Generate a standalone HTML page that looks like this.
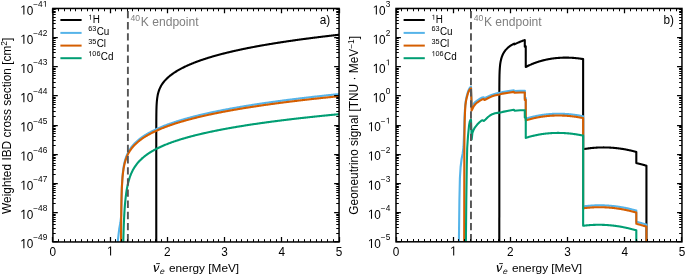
<!DOCTYPE html>
<html><head><meta charset="utf-8"><style>
html,body{margin:0;padding:0;background:#fff;}
body{width:685px;height:275px;overflow:hidden;font-family:"Liberation Sans",sans-serif;}
svg{display:block;will-change:transform;}
text{font-family:"Liberation Sans",sans-serif;}
</style></head><body>
<svg width="685" height="275" viewBox="0 0 685 275">
<defs><clipPath id="cl"><rect x="52.85" y="8.40" width="286.20" height="233.55"/></clipPath>
<clipPath id="cr"><rect x="396.00" y="8.40" width="285.95" height="233.40"/></clipPath></defs>
<rect width="685" height="275" fill="#fff"/>
<g clip-path="url(#cl)" fill="none" stroke-width="2.10" stroke-linejoin="round" stroke-linecap="butt">
<path d="M156.27 329.53L156.27 207.00L156.27 206.53L156.27 206.07L156.27 205.60L156.27 205.14L156.27 204.67L156.27 204.21L156.27 203.74L156.27 203.28L156.27 202.81L156.27 202.35L156.27 201.88L156.27 201.42L156.27 200.96L156.27 200.49L156.27 200.03L156.27 199.56L156.27 199.10L156.27 198.63L156.27 198.17L156.27 197.70L156.27 197.24L156.27 196.77L156.27 196.31L156.27 195.84L156.27 195.38L156.27 194.91L156.27 194.45L156.27 193.99L156.27 193.52L156.27 193.06L156.27 192.59L156.27 192.13L156.27 191.66L156.27 191.20L156.27 190.73L156.27 190.27L156.27 189.80L156.27 189.34L156.27 188.87L156.27 188.41L156.27 187.95L156.27 187.48L156.27 187.02L156.27 186.55L156.27 186.09L156.27 185.62L156.27 185.16L156.27 184.69L156.27 184.23L156.27 183.76L156.27 183.30L156.27 182.83L156.27 182.37L156.27 181.90L156.27 181.44L156.27 180.98L156.27 180.51L156.27 180.05L156.27 179.58L156.27 179.12L156.27 178.65L156.27 178.19L156.27 177.72L156.27 177.26L156.27 176.79L156.27 176.33L156.27 175.86L156.27 175.40L156.27 174.94L156.27 174.47L156.27 174.01L156.27 173.54L156.27 173.08L156.27 172.61L156.27 172.15L156.27 171.68L156.27 171.22L156.27 170.75L156.27 170.29L156.27 169.82L156.27 169.36L156.27 168.90L156.27 168.43L156.27 167.97L156.27 167.50L156.27 167.04L156.27 166.57L156.27 166.11L156.27 165.64L156.27 165.18L156.27 164.71L156.27 164.25L156.27 163.78L156.27 163.32L156.27 162.85L156.27 162.39L156.27 161.93L156.27 161.46L156.27 161.00L156.27 160.53L156.27 160.07L156.27 159.60L156.27 159.14L156.27 158.67L156.27 158.21L156.27 157.74L156.27 157.28L156.27 156.81L156.27 156.35L156.27 155.89L156.27 155.42L156.27 154.96L156.27 154.49L156.27 154.03L156.27 153.56L156.27 153.10L156.27 152.63L156.27 152.17L156.27 151.70L156.27 151.24L156.27 150.77L156.27 150.31L156.27 149.84L156.27 149.38L156.27 148.92L156.27 148.45L156.27 147.99L156.27 147.52L156.27 147.06L156.27 146.59L156.27 146.13L156.27 145.66L156.27 145.20L156.27 144.73L156.27 144.27L156.27 143.80L156.27 143.34L156.27 142.88L156.27 142.41L156.27 141.95L156.27 141.48L156.27 141.02L156.27 140.55L156.27 140.09L156.27 139.62L156.27 139.16L156.27 138.69L156.27 138.23L156.27 137.76L156.27 137.30L156.27 136.83L156.27 136.37L156.27 135.90L156.27 135.44L156.27 134.98L156.27 134.51L156.27 134.05L156.27 133.58L156.27 133.12L156.27 132.65L156.27 132.19L156.28 131.72L156.28 131.26L156.28 130.79L156.28 130.33L156.28 129.86L156.28 129.40L156.28 128.93L156.28 128.47L156.28 128.00L156.28 127.54L156.28 127.07L156.28 126.61L156.28 126.14L156.28 125.68L156.29 125.21L156.29 124.75L156.29 124.28L156.29 123.82L156.29 123.35L156.29 122.89L156.29 122.42L156.30 121.95L156.30 121.49L156.30 121.02L156.30 120.56L156.30 120.09L156.31 119.63L156.31 119.16L156.31 118.69L156.32 118.23L156.32 117.76L156.32 117.30L156.33 116.83L156.33 116.36L156.34 115.90L156.34 115.43L156.35 114.96L156.35 114.50L156.36 114.03L156.36 113.56L156.37 113.09L156.38 112.62L156.39 112.16L156.39 111.69L156.40 111.22L156.41 110.75L156.42 110.28L156.44 109.81L156.45 109.34L156.46 108.87L156.48 108.40L156.49 107.93L156.51 107.45L156.52 106.98L156.54 106.51L156.56 106.03L156.58 105.56L156.61 105.08L156.63 104.61L156.66 104.13L156.69 103.65L156.72 103.18L156.75 102.70L156.79 102.22L156.83 101.73L156.87 101.25L156.91 100.77L156.96 100.28L157.01 99.79L157.07 99.30L157.12 98.81L157.19 98.32L157.26 97.82L157.33 97.33L157.41 96.83L157.49 96.32L157.58 95.82L157.68 95.31L157.78 94.80L157.89 94.29L158.01 93.77L158.14 93.25L158.28 92.73L158.43 92.20L158.59 91.66L158.76 91.13L158.94 90.58L159.13 90.05L159.14 90.03L159.59 88.89L160.05 87.86L160.51 86.92L160.96 86.07L161.42 85.27L161.88 84.54L162.34 83.85L162.80 83.19L163.25 82.57L163.71 81.99L164.17 81.43L164.63 80.89L165.09 80.37L165.54 79.87L166.00 79.40L166.46 78.93L166.92 78.48L167.38 78.05L167.84 77.63L168.29 77.22L168.75 76.82L169.21 76.43L169.67 76.05L170.13 75.68L170.58 75.32L171.04 74.97L171.50 74.62L171.96 74.29L172.42 73.95L172.87 73.63L173.33 73.31L173.79 73.00L174.25 72.69L174.71 72.39L175.16 72.09L175.62 71.80L176.08 71.51L176.54 71.23L177.00 70.95L177.46 70.68L177.91 70.41L178.37 70.15L178.83 69.89L179.29 69.63L179.75 69.37L180.20 69.12L180.66 68.88L181.12 68.63L181.58 68.39L182.04 68.15L182.49 67.92L182.95 67.69L183.41 67.46L183.87 67.23L184.33 67.01L184.78 66.79L185.24 66.57L185.70 66.35L186.16 66.14L186.62 65.92L187.08 65.71L187.53 65.51L187.99 65.30L188.45 65.10L188.91 64.90L189.37 64.70L189.82 64.50L190.28 64.31L190.74 64.12L191.20 63.92L191.66 63.73L192.11 63.55L192.57 63.36L193.03 63.18L193.49 62.99L193.95 62.81L194.40 62.63L194.86 62.46L195.32 62.28L195.78 62.10L196.24 61.93L196.70 61.76L197.15 61.59L197.61 61.42L198.07 61.25L198.53 61.09L198.99 60.92L199.44 60.76L199.90 60.59L200.36 60.43L200.82 60.27L201.28 60.11L201.73 59.96L202.19 59.80L202.65 59.64L203.11 59.49L203.57 59.34L204.02 59.19L204.48 59.03L204.94 58.88L205.40 58.74L205.86 58.59L206.32 58.44L206.77 58.30L207.23 58.15L207.69 58.01L208.15 57.86L208.61 57.72L209.06 57.58L209.52 57.44L209.98 57.30L210.44 57.17L210.90 57.03L211.35 56.89L211.81 56.76L212.27 56.62L212.73 56.49L213.19 56.35L213.64 56.22L214.10 56.09L214.56 55.96L215.02 55.83L215.48 55.70L215.94 55.57L216.39 55.45L216.85 55.32L217.31 55.19L217.77 55.07L218.23 54.94L218.68 54.82L219.14 54.70L219.60 54.57L220.06 54.45L220.52 54.33L220.97 54.21L221.43 54.09L221.89 53.97L222.35 53.85L222.81 53.73L223.26 53.62L223.72 53.50L224.18 53.38L224.64 53.27L225.10 53.15L225.56 53.04L226.01 52.93L226.47 52.81L226.93 52.70L227.39 52.59L227.85 52.48L228.30 52.37L228.76 52.26L229.22 52.15L229.68 52.04L230.14 51.93L230.59 51.82L231.05 51.71L231.51 51.61L231.97 51.50L232.43 51.39L232.88 51.29L233.34 51.18L233.80 51.08L234.26 50.97L234.72 50.87L235.18 50.77L235.63 50.66L236.09 50.56L236.55 50.46L237.01 50.36L237.47 50.26L237.92 50.16L238.38 50.06L238.84 49.96L239.30 49.86L239.76 49.76L240.21 49.66L240.67 49.57L241.13 49.47L241.59 49.37L242.05 49.28L242.50 49.18L242.96 49.08L243.42 48.99L243.88 48.89L244.34 48.80L244.80 48.71L245.25 48.61L245.71 48.52L246.17 48.43L246.63 48.33L247.09 48.24L247.54 48.15L248.00 48.06L248.46 47.97L248.92 47.88L249.38 47.79L249.83 47.70L250.29 47.61L250.75 47.52L251.21 47.43L251.67 47.34L252.13 47.25L252.58 47.17L253.04 47.08L253.50 46.99L253.96 46.91L254.42 46.82L254.87 46.73L255.33 46.65L255.79 46.56L256.25 46.48L256.71 46.39L257.16 46.31L257.62 46.22L258.08 46.14L258.54 46.06L259.00 45.97L259.45 45.89L259.91 45.81L260.37 45.73L260.83 45.64L261.29 45.56L261.75 45.48L262.20 45.40L262.66 45.32L263.12 45.24L263.58 45.16L264.04 45.08L264.49 45.00L264.95 44.92L265.41 44.84L265.87 44.76L266.33 44.68L266.78 44.60L267.24 44.53L267.70 44.45L268.16 44.37L268.62 44.29L269.07 44.22L269.53 44.14L269.99 44.06L270.45 43.99L270.91 43.91L271.37 43.84L271.82 43.76L272.28 43.68L272.74 43.61L273.20 43.54L273.66 43.46L274.11 43.39L274.57 43.31L275.03 43.24L275.49 43.17L275.95 43.09L276.40 43.02L276.86 42.95L277.32 42.87L277.78 42.80L278.24 42.73L278.69 42.66L279.15 42.59L279.61 42.51L280.07 42.44L280.53 42.37L280.99 42.30L281.44 42.23L281.90 42.16L282.36 42.09L282.82 42.02L283.28 41.95L283.73 41.88L284.19 41.81L284.65 41.74L285.11 41.67L285.57 41.61L286.02 41.54L286.48 41.47L286.94 41.40L287.40 41.33L287.86 41.27L288.31 41.20L288.77 41.13L289.23 41.06L289.69 41.00L290.15 40.93L290.61 40.86L291.06 40.80L291.52 40.73L291.98 40.67L292.44 40.60L292.90 40.54L293.35 40.47L293.81 40.41L294.27 40.34L294.73 40.28L295.19 40.21L295.64 40.15L296.10 40.08L296.56 40.02L297.02 39.95L297.48 39.89L297.93 39.83L298.39 39.76L298.85 39.70L299.31 39.64L299.77 39.58L300.23 39.51L300.68 39.45L301.14 39.39L301.60 39.33L302.06 39.26L302.52 39.20L302.97 39.14L303.43 39.08L303.89 39.02L304.35 38.96L304.81 38.90L305.26 38.84L305.72 38.78L306.18 38.71L306.64 38.65L307.10 38.59L307.55 38.53L308.01 38.47L308.47 38.42L308.93 38.36L309.39 38.30L309.85 38.24L310.30 38.18L310.76 38.12L311.22 38.06L311.68 38.00L312.14 37.94L312.59 37.89L313.05 37.83L313.51 37.77L313.97 37.71L314.43 37.65L314.88 37.60L315.34 37.54L315.80 37.48L316.26 37.42L316.72 37.37L317.17 37.31L317.63 37.25L318.09 37.20L318.55 37.14L319.01 37.08L319.47 37.03L319.92 36.97L320.38 36.92L320.84 36.86L321.30 36.80L321.76 36.75L322.21 36.69L322.67 36.64L323.13 36.58L323.59 36.53L324.05 36.47L324.50 36.42L324.96 36.37L325.42 36.31L325.88 36.26L326.34 36.20L326.79 36.15L327.25 36.09L327.71 36.04L328.17 35.99L328.63 35.93L329.09 35.88L329.54 35.83L330.00 35.77L330.46 35.72L330.92 35.67L331.38 35.61L331.83 35.56L332.29 35.51L332.75 35.46L333.21 35.40L333.67 35.35L334.12 35.30L334.58 35.25L335.04 35.20L335.50 35.15L335.96 35.09L336.41 35.04L336.87 34.99L337.33 34.94L337.79 34.89L338.25 34.84L338.71 34.79L339.16 34.74L339.62 34.68L340.08 34.63L340.54 34.58L341.00 34.53L341.45 34.48L341.91 34.43" stroke="#000000"/>
<path d="M117.00 246.00L117.70 241.90L119.20 229.00L120.40 222.50L121.20 215.50L121.82 187.63L122.38 177.92L122.93 172.04L123.48 167.91L124.03 164.76L124.58 162.23L125.13 160.11L125.69 158.30L126.24 156.71L126.79 155.30L127.34 154.03L127.89 152.87L128.44 151.81L128.99 150.82L129.55 149.90L130.10 149.04L130.65 148.23L131.20 147.47L131.75 146.74L132.30 146.05L132.86 145.39L133.41 144.75L133.96 144.15L134.51 143.57L135.06 143.00L135.61 142.46L136.17 141.94L136.72 141.43L137.27 140.94L137.82 140.46L138.37 140.00L138.92 139.55L139.48 139.11L140.03 138.68L140.58 138.26L141.13 137.85L141.68 137.46L142.23 137.07L142.78 136.69L143.34 136.31L143.89 135.95L144.44 135.59L144.99 135.24L145.54 134.90L146.09 134.56L146.65 134.23L147.20 133.90L147.75 133.58L148.30 133.26L148.85 132.95L149.40 132.65L149.96 132.35L150.51 132.05L151.06 131.76L151.61 131.48L152.16 131.19L152.71 130.92L153.27 130.64L153.82 130.37L154.37 130.10L154.92 129.84L155.47 129.58L156.02 129.32L156.57 129.07L157.13 128.82L157.68 128.57L158.23 128.33L158.78 128.09L159.33 127.85L159.88 127.61L160.44 127.38L160.99 127.15L161.54 126.92L162.09 126.69L162.64 126.47L163.19 126.25L163.75 126.03L164.30 125.81L164.85 125.60L165.40 125.39L165.95 125.18L166.50 124.97L167.06 124.76L167.61 124.56L168.16 124.36L168.71 124.16L169.26 123.96L169.81 123.76L170.36 123.57L170.92 123.37L171.47 123.18L172.02 122.99L172.57 122.81L173.12 122.62L173.67 122.43L174.23 122.25L174.78 122.07L175.33 121.89L175.88 121.71L176.43 121.53L176.98 121.36L177.54 121.18L178.09 121.01L178.64 120.84L179.19 120.67L179.74 120.50L180.29 120.33L180.85 120.16L181.40 120.00L181.95 119.83L182.50 119.67L183.05 119.51L183.60 119.35L184.15 119.19L184.71 119.03L185.26 118.87L185.81 118.72L186.36 118.56L186.91 118.41L187.46 118.26L188.02 118.10L188.57 117.95L189.12 117.80L189.67 117.65L190.22 117.51L190.77 117.36L191.33 117.21L191.88 117.07L192.43 116.92L192.98 116.78L193.53 116.64L194.08 116.49L194.64 116.35L195.19 116.21L195.74 116.07L196.29 115.94L196.84 115.80L197.39 115.66L197.94 115.53L198.50 115.39L199.05 115.26L199.60 115.12L200.15 114.99L200.70 114.86L201.25 114.73L201.81 114.60L202.36 114.47L202.91 114.34L203.46 114.21L204.01 114.08L204.56 113.96L205.12 113.83L205.67 113.70L206.22 113.58L206.77 113.46L207.32 113.33L207.87 113.21L208.43 113.09L208.98 112.96L209.53 112.84L210.08 112.72L210.63 112.60L211.18 112.48L211.73 112.37L212.29 112.25L212.84 112.13L213.39 112.01L213.94 111.90L214.49 111.78L215.04 111.67L215.60 111.55L216.15 111.44L216.70 111.32L217.25 111.21L217.80 111.10L218.35 110.99L218.91 110.88L219.46 110.77L220.01 110.66L220.56 110.55L221.11 110.44L221.66 110.33L222.22 110.22L222.77 110.11L223.32 110.00L223.87 109.90L224.42 109.79L224.97 109.68L225.52 109.58L226.08 109.47L226.63 109.37L227.18 109.27L227.73 109.16L228.28 109.06L228.83 108.96L229.39 108.85L229.94 108.75L230.49 108.65L231.04 108.55L231.59 108.45L232.14 108.35L232.70 108.25L233.25 108.15L233.80 108.05L234.35 107.95L234.90 107.86L235.45 107.76L236.01 107.66L236.56 107.56L237.11 107.47L237.66 107.37L238.21 107.27L238.76 107.18L239.31 107.08L239.87 106.99L240.42 106.90L240.97 106.80L241.52 106.71L242.07 106.62L242.62 106.52L243.18 106.43L243.73 106.34L244.28 106.25L244.83 106.15L245.38 106.06L245.93 105.97L246.49 105.88L247.04 105.79L247.59 105.70L248.14 105.61L248.69 105.52L249.24 105.44L249.80 105.35L250.35 105.26L250.90 105.17L251.45 105.08L252.00 105.00L252.55 104.91L253.10 104.82L253.66 104.74L254.21 104.65L254.76 104.57L255.31 104.48L255.86 104.40L256.41 104.31L256.97 104.23L257.52 104.14L258.07 104.06L258.62 103.97L259.17 103.89L259.72 103.81L260.28 103.73L260.83 103.64L261.38 103.56L261.93 103.48L262.48 103.40L263.03 103.32L263.59 103.24L264.14 103.15L264.69 103.07L265.24 102.99L265.79 102.91L266.34 102.83L266.89 102.75L267.45 102.67L268.00 102.60L268.55 102.52L269.10 102.44L269.65 102.36L270.20 102.28L270.76 102.20L271.31 102.13L271.86 102.05L272.41 101.97L272.96 101.90L273.51 101.82L274.07 101.74L274.62 101.67L275.17 101.59L275.72 101.52L276.27 101.44L276.82 101.37L277.37 101.29L277.93 101.22L278.48 101.14L279.03 101.07L279.58 100.99L280.13 100.92L280.68 100.85L281.24 100.77L281.79 100.70L282.34 100.63L282.89 100.55L283.44 100.48L283.99 100.41L284.55 100.34L285.10 100.26L285.65 100.19L286.20 100.12L286.75 100.05L287.30 99.98L287.86 99.91L288.41 99.84L288.96 99.77L289.51 99.70L290.06 99.63L290.61 99.56L291.16 99.49L291.72 99.42L292.27 99.35L292.82 99.28L293.37 99.21L293.92 99.14L294.47 99.07L295.03 99.01L295.58 98.94L296.13 98.87L296.68 98.80L297.23 98.73L297.78 98.67L298.34 98.60L298.89 98.53L299.44 98.47L299.99 98.40L300.54 98.33L301.09 98.27L301.65 98.20L302.20 98.13L302.75 98.07L303.30 98.00L303.85 97.94L304.40 97.87L304.95 97.81L305.51 97.74L306.06 97.68L306.61 97.61L307.16 97.55L307.71 97.48L308.26 97.42L308.82 97.36L309.37 97.29L309.92 97.23L310.47 97.17L311.02 97.10L311.57 97.04L312.13 96.98L312.68 96.91L313.23 96.85L313.78 96.79L314.33 96.73L314.88 96.66L315.44 96.60L315.99 96.54L316.54 96.48L317.09 96.42L317.64 96.35L318.19 96.29L318.74 96.23L319.30 96.17L319.85 96.11L320.40 96.05L320.95 95.99L321.50 95.93L322.05 95.87L322.61 95.81L323.16 95.75L323.71 95.69L324.26 95.63L324.81 95.57L325.36 95.51L325.92 95.45L326.47 95.39L327.02 95.33L327.57 95.27L328.12 95.22L328.67 95.16L329.23 95.10L329.78 95.04L330.33 94.98L330.88 94.92L331.43 94.87L331.98 94.81L332.53 94.75L333.09 94.69L333.64 94.64L334.19 94.58L334.74 94.52L335.29 94.46L335.84 94.41L336.40 94.35L336.95 94.29L337.50 94.24L338.05 94.18L338.60 94.12L339.15 94.07L339.71 94.01L340.26 93.96L340.81 93.90L341.36 93.85L341.91 93.79" stroke="#56B4E9"/>
<path d="M120.78 329.53L120.78 329.53L120.78 329.53L120.78 329.53L120.78 329.53L120.78 329.53L120.78 329.53L120.78 329.53L120.78 329.53L120.78 329.53L120.78 329.53L120.78 329.53L120.78 329.53L120.78 329.53L120.78 329.53L120.78 329.53L120.78 329.53L120.78 329.53L120.78 329.53L120.78 329.53L120.78 329.53L120.78 329.53L120.78 329.53L120.78 329.53L120.78 329.53L120.78 329.53L120.78 329.53L120.78 329.53L120.78 329.53L120.78 329.53L120.78 329.53L120.78 329.53L120.78 329.53L120.78 329.53L120.78 329.53L120.78 329.53L120.78 329.53L120.78 329.53L120.78 329.53L120.78 329.53L120.78 329.53L120.78 329.53L120.78 329.53L120.78 329.53L120.78 329.53L120.78 329.53L120.78 329.53L120.78 329.53L120.78 329.53L120.78 329.53L120.78 329.53L120.78 329.53L120.78 329.53L120.78 329.53L120.78 329.53L120.78 329.53L120.78 329.53L120.78 329.53L120.78 329.53L120.78 329.53L120.78 329.53L120.78 329.53L120.78 329.53L120.78 329.53L120.78 329.53L120.78 329.53L120.78 329.53L120.78 329.53L120.78 329.53L120.78 329.53L120.78 329.53L120.78 329.53L120.78 329.53L120.78 329.53L120.78 329.53L120.78 329.53L120.78 329.53L120.78 329.53L120.78 329.53L120.78 329.53L120.78 329.53L120.78 329.53L120.78 329.53L120.78 329.53L120.78 329.53L120.78 329.53L120.78 329.53L120.78 329.53L120.78 329.53L120.78 329.53L120.78 329.53L120.78 329.53L120.78 329.53L120.78 329.53L120.78 329.53L120.78 329.53L120.78 329.53L120.78 329.53L120.78 329.53L120.78 329.53L120.78 329.53L120.78 329.53L120.78 329.53L120.78 329.53L120.78 329.53L120.78 329.53L120.78 329.53L120.78 329.53L120.78 329.53L120.78 329.53L120.78 329.53L120.78 329.53L120.78 329.53L120.78 329.53L120.78 329.53L120.78 329.53L120.78 329.53L120.78 329.53L120.78 329.53L120.78 329.53L120.78 329.53L120.78 329.53L120.78 329.53L120.78 329.53L120.78 329.53L120.78 329.53L120.78 329.53L120.78 329.53L120.78 329.53L120.78 329.53L120.78 329.53L120.78 329.53L120.78 329.53L120.78 329.53L120.78 329.53L120.78 329.53L120.78 329.53L120.78 329.53L120.78 329.53L120.78 329.53L120.78 329.53L120.78 329.53L120.78 329.53L120.78 329.53L120.78 329.53L120.78 329.53L120.78 329.53L120.78 329.53L120.78 329.53L120.78 329.53L120.78 329.53L120.78 329.53L120.78 329.53L120.78 329.53L120.78 329.53L120.78 329.53L120.78 329.53L120.78 329.53L120.78 329.53L120.78 329.53L120.78 329.53L120.78 329.53L120.79 329.53L120.79 329.53L120.79 329.53L120.79 329.53L120.79 329.53L120.79 329.53L120.79 329.53L120.79 329.53L120.79 329.53L120.79 329.53L120.79 329.53L120.79 329.53L120.79 329.53L120.79 329.53L120.79 329.53L120.80 329.53L120.80 329.53L120.80 329.53L120.80 329.53L120.80 329.53L120.80 329.53L120.80 329.53L120.81 329.53L120.81 329.53L120.81 329.53L120.81 329.53L120.81 329.53L120.82 329.53L120.82 329.53L120.82 329.53L120.83 329.53L120.83 329.53L120.83 329.53L120.84 329.53L120.84 329.53L120.85 329.53L120.85 327.75L120.86 321.21L120.86 314.90L120.87 308.80L120.87 302.92L120.88 297.25L120.89 291.78L120.90 286.49L120.90 281.40L120.91 276.48L120.92 271.73L120.93 267.15L120.95 262.73L120.96 258.47L120.97 254.35L120.99 250.38L121.00 246.55L121.02 242.85L121.03 239.28L121.05 235.83L121.07 232.51L121.10 229.30L121.12 226.20L121.14 223.21L121.17 220.32L121.20 217.54L121.23 214.84L121.26 212.24L121.30 209.73L121.34 207.31L121.38 204.96L121.42 202.70L121.47 200.51L121.52 198.39L121.58 196.34L121.63 194.36L121.70 192.44L121.77 190.58L121.84 188.78L121.92 187.03L122.00 185.34L122.09 183.70L122.19 182.11L122.29 180.56L122.40 179.06L122.52 177.60L122.65 176.17L122.79 174.79L122.94 173.44L123.10 172.12L123.27 170.83L123.45 169.57L123.64 168.39L123.65 168.34L124.19 165.47L124.74 163.09L125.28 161.09L125.83 159.36L126.38 157.84L126.92 156.48L127.47 155.25L128.02 154.12L128.56 153.09L129.11 152.12L129.66 151.23L130.21 150.39L130.75 149.59L131.30 148.84L131.85 148.13L132.39 147.45L132.94 146.80L133.49 146.18L134.04 145.59L134.58 145.01L135.13 144.46L135.68 143.92L136.22 143.41L136.77 142.91L137.32 142.42L137.86 141.95L138.41 141.50L138.96 141.05L139.51 140.62L140.05 140.20L140.60 139.78L141.15 139.38L141.69 138.99L142.24 138.61L142.79 138.23L143.34 137.86L143.88 137.50L144.43 137.15L144.98 136.80L145.52 136.46L146.07 136.13L146.62 135.80L147.16 135.48L147.71 135.16L148.26 134.85L148.81 134.54L149.35 134.24L149.90 133.95L150.45 133.66L150.99 133.37L151.54 133.08L152.09 132.81L152.63 132.53L153.18 132.26L153.73 131.99L154.28 131.73L154.82 131.47L155.37 131.21L155.92 130.96L156.46 130.71L157.01 130.46L157.56 130.22L158.11 129.97L158.65 129.74L159.20 129.50L159.75 129.27L160.29 129.04L160.84 128.81L161.39 128.58L161.93 128.36L162.48 128.14L163.03 127.92L163.58 127.71L164.12 127.49L164.67 127.28L165.22 127.07L165.76 126.86L166.31 126.66L166.86 126.46L167.41 126.25L167.95 126.05L168.50 125.86L169.05 125.66L169.59 125.47L170.14 125.28L170.69 125.09L171.23 124.90L171.78 124.71L172.33 124.52L172.88 124.34L173.42 124.16L173.97 123.98L174.52 123.80L175.06 123.62L175.61 123.44L176.16 123.27L176.70 123.10L177.25 122.92L177.80 122.75L178.35 122.58L178.89 122.42L179.44 122.25L179.99 122.08L180.53 121.92L181.08 121.76L181.63 121.59L182.18 121.43L182.72 121.27L183.27 121.12L183.82 120.96L184.36 120.80L184.91 120.65L185.46 120.49L186.00 120.34L186.55 120.19L187.10 120.04L187.65 119.89L188.19 119.74L188.74 119.59L189.29 119.44L189.83 119.30L190.38 119.15L190.93 119.01L191.47 118.87L192.02 118.72L192.57 118.58L193.12 118.44L193.66 118.30L194.21 118.16L194.76 118.03L195.30 117.89L195.85 117.75L196.40 117.62L196.95 117.48L197.49 117.35L198.04 117.22L198.59 117.09L199.13 116.95L199.68 116.82L200.23 116.69L200.77 116.56L201.32 116.44L201.87 116.31L202.42 116.18L202.96 116.06L203.51 115.93L204.06 115.81L204.60 115.68L205.15 115.56L205.70 115.44L206.25 115.31L206.79 115.19L207.34 115.07L207.89 114.95L208.43 114.83L208.98 114.71L209.53 114.59L210.07 114.48L210.62 114.36L211.17 114.24L211.72 114.13L212.26 114.01L212.81 113.90L213.36 113.78L213.90 113.67L214.45 113.56L215.00 113.44L215.54 113.33L216.09 113.22L216.64 113.11L217.19 113.00L217.73 112.89L218.28 112.78L218.83 112.67L219.37 112.56L219.92 112.45L220.47 112.35L221.02 112.24L221.56 112.13L222.11 112.03L222.66 111.92L223.20 111.82L223.75 111.71L224.30 111.61L224.84 111.51L225.39 111.40L225.94 111.30L226.49 111.20L227.03 111.10L227.58 111.00L228.13 110.90L228.67 110.79L229.22 110.69L229.77 110.60L230.32 110.50L230.86 110.40L231.41 110.30L231.96 110.20L232.50 110.10L233.05 110.01L233.60 109.91L234.14 109.82L234.69 109.72L235.24 109.62L235.79 109.53L236.33 109.43L236.88 109.34L237.43 109.25L237.97 109.15L238.52 109.06L239.07 108.97L239.61 108.87L240.16 108.78L240.71 108.69L241.26 108.60L241.80 108.51L242.35 108.42L242.90 108.33L243.44 108.24L243.99 108.15L244.54 108.06L245.09 107.97L245.63 107.88L246.18 107.79L246.73 107.71L247.27 107.62L247.82 107.53L248.37 107.45L248.91 107.36L249.46 107.27L250.01 107.19L250.56 107.10L251.10 107.02L251.65 106.93L252.20 106.85L252.74 106.76L253.29 106.68L253.84 106.59L254.39 106.51L254.93 106.43L255.48 106.34L256.03 106.26L256.57 106.18L257.12 106.10L257.67 106.02L258.21 105.93L258.76 105.85L259.31 105.77L259.86 105.69L260.40 105.61L260.95 105.53L261.50 105.45L262.04 105.37L262.59 105.29L263.14 105.21L263.68 105.14L264.23 105.06L264.78 104.98L265.33 104.90L265.87 104.82L266.42 104.75L266.97 104.67L267.51 104.59L268.06 104.52L268.61 104.44L269.16 104.36L269.70 104.29L270.25 104.21L270.80 104.14L271.34 104.06L271.89 103.99L272.44 103.91L272.98 103.84L273.53 103.76L274.08 103.69L274.63 103.62L275.17 103.54L275.72 103.47L276.27 103.40L276.81 103.32L277.36 103.25L277.91 103.18L278.45 103.11L279.00 103.03L279.55 102.96L280.10 102.89L280.64 102.82L281.19 102.75L281.74 102.68L282.28 102.61L282.83 102.54L283.38 102.47L283.93 102.40L284.47 102.33L285.02 102.26L285.57 102.19L286.11 102.12L286.66 102.05L287.21 101.98L287.75 101.91L288.30 101.84L288.85 101.77L289.40 101.71L289.94 101.64L290.49 101.57L291.04 101.50L291.58 101.44L292.13 101.37L292.68 101.30L293.23 101.24L293.77 101.17L294.32 101.10L294.87 101.04L295.41 100.97L295.96 100.90L296.51 100.84L297.05 100.77L297.60 100.71L298.15 100.64L298.70 100.58L299.24 100.51L299.79 100.45L300.34 100.39L300.88 100.32L301.43 100.26L301.98 100.19L302.52 100.13L303.07 100.07L303.62 100.00L304.17 99.94L304.71 99.88L305.26 99.81L305.81 99.75L306.35 99.69L306.90 99.63L307.45 99.56L308.00 99.50L308.54 99.44L309.09 99.38L309.64 99.32L310.18 99.26L310.73 99.20L311.28 99.13L311.82 99.07L312.37 99.01L312.92 98.95L313.47 98.89L314.01 98.83L314.56 98.77L315.11 98.71L315.65 98.65L316.20 98.59L316.75 98.53L317.30 98.47L317.84 98.41L318.39 98.35L318.94 98.30L319.48 98.24L320.03 98.18L320.58 98.12L321.12 98.06L321.67 98.00L322.22 97.95L322.77 97.89L323.31 97.83L323.86 97.77L324.41 97.71L324.95 97.66L325.50 97.60L326.05 97.54L326.59 97.49L327.14 97.43L327.69 97.37L328.24 97.32L328.78 97.26L329.33 97.20L329.88 97.15L330.42 97.09L330.97 97.04L331.52 96.98L332.07 96.92L332.61 96.87L333.16 96.81L333.71 96.76L334.25 96.70L334.80 96.65L335.35 96.59L335.89 96.54L336.44 96.48L336.99 96.43L337.54 96.38L338.08 96.32L338.63 96.27L339.18 96.21L339.72 96.16L340.27 96.11L340.82 96.05L341.36 96.00L341.91 95.95" stroke="#D55E00"/>
<path d="M122.13 329.53L122.13 329.53L122.13 329.53L122.13 329.53L122.13 329.53L122.13 329.53L122.13 329.53L122.13 329.53L122.13 329.53L122.13 329.53L122.13 329.53L122.13 329.53L122.13 329.53L122.13 329.53L122.13 329.53L122.13 329.53L122.13 329.53L122.13 329.53L122.13 329.53L122.13 329.53L122.13 329.53L122.13 329.53L122.13 329.53L122.13 329.53L122.13 329.53L122.13 329.53L122.13 329.53L122.13 329.53L122.13 329.53L122.13 329.53L122.13 329.53L122.13 329.53L122.13 329.53L122.13 329.53L122.13 329.53L122.13 329.53L122.13 329.53L122.13 329.53L122.13 329.53L122.13 329.53L122.13 329.53L122.13 329.53L122.13 329.53L122.13 329.53L122.13 329.53L122.13 329.53L122.13 329.53L122.13 329.53L122.13 329.53L122.13 329.53L122.13 329.53L122.13 329.53L122.13 329.53L122.13 329.53L122.13 329.53L122.13 329.53L122.13 329.53L122.13 329.53L122.13 329.53L122.13 329.53L122.13 329.53L122.13 329.53L122.13 329.53L122.13 329.53L122.13 329.53L122.13 329.53L122.13 329.53L122.13 329.53L122.13 329.53L122.13 329.53L122.13 329.53L122.13 329.53L122.13 329.53L122.13 329.53L122.13 329.53L122.13 329.53L122.13 329.53L122.13 329.53L122.13 329.53L122.13 329.53L122.13 329.53L122.13 329.53L122.13 329.53L122.13 329.53L122.13 329.53L122.13 329.53L122.13 329.53L122.13 329.53L122.13 329.53L122.13 329.53L122.13 329.53L122.13 329.53L122.13 329.53L122.13 329.53L122.13 329.53L122.13 329.53L122.13 329.53L122.13 329.53L122.13 329.53L122.13 329.53L122.13 329.53L122.13 329.53L122.13 329.53L122.13 329.53L122.13 329.53L122.13 329.53L122.13 329.53L122.13 329.53L122.13 329.53L122.13 329.53L122.13 329.53L122.13 329.53L122.13 329.53L122.13 329.53L122.13 329.53L122.13 329.53L122.13 329.53L122.13 329.53L122.13 329.53L122.13 329.53L122.13 329.53L122.13 329.53L122.13 329.53L122.13 329.53L122.13 329.53L122.13 329.53L122.13 329.53L122.13 329.53L122.13 329.53L122.13 329.53L122.13 329.53L122.13 329.53L122.13 329.53L122.13 329.53L122.13 329.53L122.13 329.53L122.13 329.53L122.13 329.53L122.13 329.53L122.13 329.53L122.13 329.53L122.13 329.53L122.13 329.53L122.13 329.53L122.13 329.53L122.13 329.53L122.13 329.53L122.13 329.53L122.13 329.53L122.13 329.53L122.13 329.53L122.13 329.53L122.13 329.53L122.13 329.53L122.13 329.53L122.13 329.53L122.13 329.53L122.14 329.53L122.14 329.53L122.14 329.53L122.14 329.53L122.14 329.53L122.14 329.53L122.14 329.53L122.14 329.53L122.14 329.53L122.14 329.53L122.14 329.53L122.14 329.53L122.14 329.53L122.14 329.53L122.14 329.53L122.14 329.53L122.14 329.53L122.14 329.53L122.15 329.53L122.15 329.53L122.15 329.53L122.15 329.53L122.15 329.53L122.15 329.53L122.15 329.53L122.15 329.53L122.16 329.53L122.16 329.53L122.16 329.53L122.16 329.53L122.16 329.53L122.17 329.53L122.17 329.53L122.17 329.53L122.17 329.53L122.18 329.53L122.18 329.53L122.18 329.53L122.19 329.53L122.19 329.53L122.20 329.53L122.20 329.53L122.21 329.53L122.21 329.53L122.22 329.53L122.23 329.53L122.23 329.53L122.24 329.53L122.25 329.53L122.26 329.53L122.27 329.53L122.28 329.53L122.29 329.53L122.30 329.53L122.31 329.53L122.32 329.53L122.34 329.53L122.35 329.53L122.37 329.53L122.39 329.53L122.40 329.53L122.43 329.53L122.45 329.53L122.47 329.53L122.50 325.71L122.52 319.09L122.55 312.69L122.58 306.53L122.62 300.58L122.65 294.84L122.69 289.30L122.73 283.96L122.77 278.81L122.82 273.84L122.87 269.05L122.93 264.43L122.99 259.97L123.05 255.66L123.12 251.51L123.19 247.51L123.27 243.65L123.35 239.92L123.44 236.33L123.54 232.86L123.64 229.51L123.75 226.29L123.87 223.17L124.00 220.16L124.14 217.26L124.29 214.45L124.45 211.74L124.62 209.13L124.80 206.60L124.99 204.24L125.00 204.16L125.54 198.59L126.08 194.13L126.62 190.48L127.17 187.42L127.71 184.78L128.26 182.49L128.80 180.46L129.34 178.64L129.89 177.00L130.43 175.51L130.97 174.15L131.52 172.88L132.06 171.72L132.60 170.62L133.15 169.60L133.69 168.65L134.24 167.74L134.78 166.89L135.32 166.07L135.87 165.30L136.41 164.57L136.95 163.86L137.50 163.19L138.04 162.54L138.58 161.92L139.13 161.33L139.67 160.75L140.22 160.19L140.76 159.66L141.30 159.14L141.85 158.63L142.39 158.14L142.93 157.67L143.48 157.21L144.02 156.76L144.56 156.32L145.11 155.90L145.65 155.49L146.20 155.08L146.74 154.69L147.28 154.30L147.83 153.92L148.37 153.55L148.91 153.19L149.46 152.84L150.00 152.49L150.55 152.16L151.09 151.82L151.63 151.50L152.18 151.18L152.72 150.86L153.26 150.55L153.81 150.25L154.35 149.95L154.89 149.66L155.44 149.37L155.98 149.08L156.53 148.80L157.07 148.53L157.61 148.26L158.16 147.99L158.70 147.73L159.24 147.47L159.79 147.21L160.33 146.96L160.87 146.71L161.42 146.47L161.96 146.23L162.51 145.99L163.05 145.75L163.59 145.52L164.14 145.29L164.68 145.06L165.22 144.84L165.77 144.62L166.31 144.40L166.85 144.18L167.40 143.97L167.94 143.75L168.49 143.55L169.03 143.34L169.57 143.13L170.12 142.93L170.66 142.73L171.20 142.53L171.75 142.34L172.29 142.14L172.84 141.95L173.38 141.76L173.92 141.57L174.47 141.38L175.01 141.20L175.55 141.02L176.10 140.84L176.64 140.66L177.18 140.48L177.73 140.30L178.27 140.13L178.82 139.95L179.36 139.78L179.90 139.61L180.45 139.44L180.99 139.27L181.53 139.11L182.08 138.94L182.62 138.78L183.16 138.62L183.71 138.46L184.25 138.30L184.80 138.14L185.34 137.98L185.88 137.83L186.43 137.67L186.97 137.52L187.51 137.37L188.06 137.22L188.60 137.07L189.14 136.92L189.69 136.77L190.23 136.63L190.78 136.48L191.32 136.34L191.86 136.19L192.41 136.05L192.95 135.91L193.49 135.77L194.04 135.63L194.58 135.49L195.12 135.35L195.67 135.22L196.21 135.08L196.76 134.95L197.30 134.81L197.84 134.68L198.39 134.55L198.93 134.42L199.47 134.29L200.02 134.16L200.56 134.03L201.11 133.90L201.65 133.77L202.19 133.64L202.74 133.52L203.28 133.39L203.82 133.27L204.37 133.15L204.91 133.02L205.45 132.90L206.00 132.78L206.54 132.66L207.09 132.54L207.63 132.42L208.17 132.30L208.72 132.18L209.26 132.07L209.80 131.95L210.35 131.84L210.89 131.72L211.43 131.61L211.98 131.49L212.52 131.38L213.07 131.27L213.61 131.15L214.15 131.04L214.70 130.93L215.24 130.82L215.78 130.71L216.33 130.60L216.87 130.49L217.41 130.38L217.96 130.28L218.50 130.17L219.05 130.06L219.59 129.96L220.13 129.85L220.68 129.75L221.22 129.64L221.76 129.54L222.31 129.44L222.85 129.33L223.40 129.23L223.94 129.13L224.48 129.03L225.03 128.93L225.57 128.83L226.11 128.73L226.66 128.63L227.20 128.53L227.74 128.43L228.29 128.33L228.83 128.23L229.38 128.14L229.92 128.04L230.46 127.94L231.01 127.85L231.55 127.75L232.09 127.66L232.64 127.56L233.18 127.47L233.72 127.37L234.27 127.28L234.81 127.19L235.36 127.10L235.90 127.00L236.44 126.91L236.99 126.82L237.53 126.73L238.07 126.64L238.62 126.55L239.16 126.46L239.70 126.37L240.25 126.28L240.79 126.19L241.34 126.10L241.88 126.01L242.42 125.93L242.97 125.84L243.51 125.75L244.05 125.67L244.60 125.58L245.14 125.49L245.68 125.41L246.23 125.32L246.77 125.24L247.32 125.15L247.86 125.07L248.40 124.99L248.95 124.90L249.49 124.82L250.03 124.74L250.58 124.65L251.12 124.57L251.67 124.49L252.21 124.41L252.75 124.33L253.30 124.25L253.84 124.16L254.38 124.08L254.93 124.00L255.47 123.92L256.01 123.84L256.56 123.77L257.10 123.69L257.65 123.61L258.19 123.53L258.73 123.45L259.28 123.37L259.82 123.30L260.36 123.22L260.91 123.14L261.45 123.06L261.99 122.99L262.54 122.91L263.08 122.84L263.63 122.76L264.17 122.68L264.71 122.61L265.26 122.53L265.80 122.46L266.34 122.39L266.89 122.31L267.43 122.24L267.97 122.16L268.52 122.09L269.06 122.02L269.61 121.94L270.15 121.87L270.69 121.80L271.24 121.73L271.78 121.65L272.32 121.58L272.87 121.51L273.41 121.44L273.96 121.37L274.50 121.30L275.04 121.23L275.59 121.16L276.13 121.09L276.67 121.02L277.22 120.95L277.76 120.88L278.30 120.81L278.85 120.74L279.39 120.67L279.94 120.60L280.48 120.53L281.02 120.47L281.57 120.40L282.11 120.33L282.65 120.26L283.20 120.20L283.74 120.13L284.28 120.06L284.83 120.00L285.37 119.93L285.92 119.86L286.46 119.80L287.00 119.73L287.55 119.66L288.09 119.60L288.63 119.53L289.18 119.47L289.72 119.40L290.26 119.34L290.81 119.27L291.35 119.21L291.90 119.15L292.44 119.08L292.98 119.02L293.53 118.95L294.07 118.89L294.61 118.83L295.16 118.76L295.70 118.70L296.24 118.64L296.79 118.58L297.33 118.51L297.88 118.45L298.42 118.39L298.96 118.33L299.51 118.27L300.05 118.21L300.59 118.14L301.14 118.08L301.68 118.02L302.23 117.96L302.77 117.90L303.31 117.84L303.86 117.78L304.40 117.72L304.94 117.66L305.49 117.60L306.03 117.54L306.57 117.48L307.12 117.42L307.66 117.36L308.21 117.30L308.75 117.24L309.29 117.19L309.84 117.13L310.38 117.07L310.92 117.01L311.47 116.95L312.01 116.89L312.55 116.84L313.10 116.78L313.64 116.72L314.19 116.66L314.73 116.61L315.27 116.55L315.82 116.49L316.36 116.44L316.90 116.38L317.45 116.32L317.99 116.27L318.53 116.21L319.08 116.15L319.62 116.10L320.17 116.04L320.71 115.99L321.25 115.93L321.80 115.88L322.34 115.82L322.88 115.77L323.43 115.71L323.97 115.66L324.52 115.60L325.06 115.55L325.60 115.49L326.15 115.44L326.69 115.38L327.23 115.33L327.78 115.28L328.32 115.22L328.86 115.17L329.41 115.12L329.95 115.06L330.50 115.01L331.04 114.96L331.58 114.90L332.13 114.85L332.67 114.80L333.21 114.74L333.76 114.69L334.30 114.64L334.84 114.59L335.39 114.54L335.93 114.48L336.48 114.43L337.02 114.38L337.56 114.33L338.11 114.28L338.65 114.23L339.19 114.17L339.74 114.12L340.28 114.07L340.82 114.02L341.37 113.97L341.91 113.92" stroke="#009E73"/>
<path d="M127.89 8.00V241.90" stroke="#555555" stroke-width="1.9" stroke-dasharray="7.4 3.76" stroke-dashoffset="8.26"/>
</g>
<g clip-path="url(#cr)" fill="none" stroke-width="2.10" stroke-linejoin="round" stroke-linecap="butt">
<path d="M499.29 270.97L499.29 217.43L499.29 217.43L499.29 217.43L499.29 217.43L499.29 217.43L499.29 217.43L499.29 217.43L499.29 217.43L499.29 217.43L499.29 217.43L499.29 217.43L499.29 217.43L499.29 217.43L499.29 217.43L499.29 217.43L499.29 217.43L499.29 217.43L499.29 217.43L499.29 217.43L499.29 217.43L499.29 217.43L499.29 217.43L499.29 217.43L499.29 217.43L499.29 217.43L499.29 217.43L499.29 217.43L499.29 217.43L499.29 217.43L499.29 217.43L499.29 217.43L499.29 217.43L499.29 217.43L499.29 217.43L499.29 217.43L499.29 217.43L499.29 217.43L499.29 217.43L499.29 217.43L499.29 217.43L499.29 217.43L499.29 217.43L499.29 217.43L499.29 217.43L499.29 217.43L499.29 217.43L499.29 217.43L499.29 217.43L499.29 217.43L499.29 217.43L499.29 217.43L499.29 217.43L499.29 217.43L499.29 217.43L499.29 217.43L499.29 217.43L499.29 217.43L499.29 217.43L499.29 217.43L499.29 217.43L499.29 217.43L499.29 217.43L499.29 217.43L499.29 217.43L499.29 217.43L499.29 217.43L499.29 217.43L499.29 217.43L499.29 217.43L499.29 217.43L499.29 217.43L499.30 217.43L499.30 217.43L499.30 217.43L499.30 217.43L499.30 217.43L499.30 217.43L499.31 217.43L499.31 217.43L499.31 217.43L499.31 217.43L499.32 217.43L499.32 217.43L499.32 217.43L499.33 217.43L499.33 98.63L499.34 93.58L499.35 90.52L499.35 88.25L499.36 86.40L499.37 84.82L499.38 83.42L499.39 82.14L499.40 80.97L499.41 79.87L499.43 78.83L499.44 77.84L499.46 76.89L499.48 75.97L499.50 75.08L499.52 74.21L499.55 73.36L499.58 72.53L499.61 71.71L499.65 70.91L499.69 70.11L499.74 69.32L499.79 68.54L499.85 67.77L499.91 67.00L499.98 66.23L500.06 65.47L500.14 64.71L500.24 63.95L500.35 63.19L500.47 62.44L500.60 61.68L500.75 60.92L500.91 60.16L501.09 59.39L501.00 59.77L501.23 58.88L501.45 58.08L501.68 57.35L501.91 56.69L502.13 56.08L502.36 55.52L502.59 54.99L502.82 54.50L503.04 54.03L503.27 53.59L503.50 53.18L503.72 52.78L503.95 52.40L504.18 52.04L504.40 51.70L504.63 51.37L504.86 51.05L505.08 50.74L505.31 50.45L505.54 50.16L505.76 49.89L505.99 49.62L506.22 49.37L506.44 49.12L506.67 48.88L506.90 48.64L507.13 48.42L507.35 48.20L507.58 47.98L507.81 47.78L508.03 47.58L508.26 47.38L508.49 47.19L508.71 47.00L508.94 46.82L509.17 46.65L509.39 46.47L509.62 46.31L509.85 46.14L510.07 45.98L510.30 45.83L510.53 45.68L510.75 45.53L510.98 45.39L511.21 45.25L511.43 45.11L511.66 44.97L511.89 44.84L512.12 44.72L512.34 44.59L512.57 44.47L512.80 44.35L513.02 44.24L513.25 44.12L513.48 44.01L513.70 43.90L513.93 43.80L514.16 43.70L514.38 43.60L514.38 44.45L514.90 44.17L515.42 43.90L515.94 43.63L516.47 43.37L516.99 43.12L517.51 42.88L518.03 42.65L518.55 42.42L519.07 42.19L519.59 41.98L520.11 41.77L520.63 41.56L521.15 41.36L521.67 41.17L522.19 40.98L522.71 40.79L523.23 40.61L523.75 40.43L524.27 40.26L524.79 40.09L524.79 46.82L525.28 46.56L525.76 46.32L525.76 66.98L526.25 66.73L526.73 66.48L527.21 66.24L527.69 66.00L528.17 65.76L528.66 65.53L529.14 65.31L529.62 65.09L530.10 64.87L530.58 64.65L531.07 64.45L531.55 64.24L532.03 64.04L532.51 63.84L532.99 63.65L533.48 63.46L533.96 63.27L534.44 63.09L534.92 62.91L535.40 62.73L535.89 62.56L536.37 62.39L536.85 62.23L537.33 62.07L537.81 61.91L538.30 61.75L538.78 61.60L539.26 61.45L539.74 61.31L540.23 61.16L540.71 61.02L541.19 60.89L541.67 60.76L542.15 60.63L542.64 60.50L543.12 60.38L543.60 60.26L544.08 60.14L544.56 60.02L545.05 59.91L545.53 59.80L546.01 59.70L546.49 59.59L546.97 59.49L547.46 59.40L547.94 59.30L548.42 59.21L548.90 59.12L549.38 59.03L549.87 58.95L550.35 58.87L550.83 58.79L551.31 58.71L551.79 58.64L552.28 58.57L552.76 58.50L553.24 58.44L553.72 58.38L554.20 58.32L554.69 58.26L555.17 58.20L555.65 58.15L556.13 58.10L556.61 58.06L557.10 58.01L557.58 57.97L558.06 57.93L558.54 57.89L559.02 57.86L559.51 57.83L559.99 57.80L560.47 57.77L560.95 57.74L561.43 57.72L561.92 57.70L562.40 57.68L562.88 57.67L563.36 57.65L563.84 57.64L564.33 57.64L564.81 57.63L565.29 57.63L565.77 57.62L566.25 57.63L566.74 57.63L567.22 57.63L567.70 57.64L568.18 57.65L568.66 57.67L569.15 57.68L569.63 57.70L570.11 57.72L570.59 57.74L571.07 57.76L571.56 57.79L572.04 57.82L572.52 57.85L573.00 57.88L573.49 57.91L573.97 57.95L574.45 57.99L574.93 58.03L575.41 58.08L575.90 58.12L576.38 58.17L576.86 58.22L577.34 58.27L577.82 58.33L578.31 58.38L578.79 58.44L579.27 58.50L579.75 58.57L580.23 58.63L580.72 58.70L581.20 58.77L581.68 58.84L582.16 58.91L582.64 58.99L583.13 59.07L583.13 149.22L583.61 149.14L584.09 149.05L584.58 148.97L585.06 148.89L585.54 148.82L586.03 148.74L586.51 148.67L586.99 148.60L587.48 148.53L587.96 148.46L588.44 148.40L588.93 148.34L589.41 148.28L589.89 148.22L590.38 148.16L590.86 148.11L591.35 148.06L591.83 148.01L592.31 147.96L592.80 147.91L593.28 147.87L593.76 147.83L594.25 147.79L594.73 147.75L595.21 147.72L595.70 147.68L596.18 147.65L596.66 147.62L597.15 147.60L597.63 147.57L598.11 147.55L598.60 147.53L599.08 147.51L599.57 147.49L600.05 147.47L600.53 147.46L601.02 147.45L601.50 147.44L601.98 147.43L602.47 147.43L602.95 147.43L603.43 147.42L603.92 147.42L604.40 147.43L604.88 147.43L605.37 147.44L605.85 147.45L606.33 147.46L606.82 147.47L607.30 147.49L607.78 147.50L608.27 147.52L608.75 147.54L609.24 147.57L609.72 147.59L610.20 147.62L610.69 147.64L611.17 147.68L611.65 147.71L612.14 147.74L612.62 147.78L613.10 147.82L613.59 147.86L614.07 147.90L614.55 147.94L615.04 147.99L615.52 148.04L616.00 148.09L616.49 148.14L616.97 148.19L617.46 148.25L617.94 148.31L618.42 148.37L618.91 148.43L619.39 148.49L619.87 148.56L620.36 148.62L620.84 148.69L621.32 148.76L621.81 148.84L622.29 148.91L622.77 148.99L623.26 149.07L623.74 149.15L624.22 149.23L624.71 149.31L625.19 149.40L625.68 149.49L626.16 149.58L626.64 149.67L627.13 149.76L627.61 149.86L628.09 149.96L628.58 150.06L629.06 150.16L629.54 150.26L630.03 150.37L630.51 150.47L630.99 150.58L631.48 150.69L631.96 150.81L632.44 150.92L632.93 151.04L633.41 151.16L633.89 151.28L634.38 151.40L634.86 151.52L635.35 151.65L635.83 151.78L636.31 151.91L636.31 163.00L636.82 163.13L637.32 163.27L637.83 163.40L638.34 163.53L638.84 163.66L639.35 163.80L639.86 163.93L640.36 164.06L640.87 164.20L641.37 164.33L641.88 164.47L642.39 164.60L642.89 164.74L643.40 164.87L643.90 165.01L644.41 165.14L644.92 165.28L645.42 165.41L645.93 165.55L646.44 165.68L646.44 270.97" stroke="#000000"/>
<path d="M458.70 246.00L458.90 241.90L459.40 200.00L459.90 178.00L460.60 167.00L461.60 159.00L462.70 153.50L463.50 147.00L464.00 135.00L464.50 118.00L464.90 110.00L465.40 104.00L466.00 99.50L466.90 95.60L468.10 91.20L469.30 88.70L470.40 87.20L471.00 86.90L471.40 97.00L471.60 106.50L472.40 105.50L473.70 103.80L475.50 101.80L477.50 100.30L480.00 98.70L482.30 97.50L483.60 97.20L484.50 98.20L486.50 97.20L488.80 96.10L491.50 94.90L494.50 93.90L497.00 93.30L499.40 92.90L502.70 92.00L508.50 91.10L513.80 90.30L514.50 91.10L520.20 90.90L524.90 90.90L524.79 91.65L524.79 98.38L525.28 98.23L525.76 98.09L525.76 118.75L526.25 118.60L526.73 118.45L527.21 118.31L527.69 118.16L528.17 118.02L528.66 117.88L529.14 117.75L529.62 117.61L530.10 117.48L530.58 117.35L531.07 117.23L531.55 117.10L532.03 116.98L532.51 116.86L532.99 116.74L533.48 116.63L533.96 116.52L534.44 116.41L534.92 116.30L535.40 116.19L535.89 116.09L536.37 115.99L536.85 115.89L537.33 115.80L537.81 115.70L538.30 115.61L538.78 115.52L539.26 115.44L539.74 115.35L540.23 115.27L540.71 115.19L541.19 115.11L541.67 115.03L542.15 114.96L542.64 114.89L543.12 114.82L543.60 114.75L544.08 114.69L544.56 114.63L545.05 114.57L545.53 114.51L546.01 114.45L546.49 114.40L546.97 114.35L547.46 114.30L547.94 114.25L548.42 114.20L548.90 114.16L549.38 114.12L549.87 114.08L550.35 114.04L550.83 114.01L551.31 113.98L551.79 113.94L552.28 113.92L552.76 113.89L553.24 113.87L553.72 113.84L554.20 113.82L554.69 113.81L555.17 113.79L555.65 113.78L556.13 113.76L556.61 113.75L557.10 113.75L557.58 113.74L558.06 113.74L558.54 113.74L559.02 113.74L559.51 113.74L559.99 113.74L560.47 113.75L560.95 113.76L561.43 113.77L561.92 113.78L562.40 113.80L562.88 113.81L563.36 113.83L563.84 113.85L564.33 113.88L564.81 113.90L565.29 113.93L565.77 113.96L566.25 113.99L566.74 114.02L567.22 114.05L567.70 114.09L568.18 114.13L568.66 114.17L569.15 114.21L569.63 114.26L570.11 114.30L570.59 114.35L571.07 114.40L571.56 114.46L572.04 114.51L572.52 114.57L573.00 114.62L573.49 114.68L573.97 114.75L574.45 114.81L574.93 114.88L575.41 114.94L575.90 115.01L576.38 115.09L576.86 115.16L577.34 115.24L577.82 115.31L578.31 115.39L578.79 115.47L579.27 115.56L579.75 115.64L580.23 115.73L580.72 115.82L581.20 115.91L581.68 116.00L582.16 116.10L582.64 116.19L583.13 116.29L583.13 206.45L583.61 206.38L584.09 206.32L584.58 206.26L585.06 206.20L585.54 206.14L586.03 206.09L586.51 206.04L586.99 205.98L587.48 205.94L587.96 205.89L588.44 205.84L588.93 205.80L589.41 205.76L589.89 205.72L590.38 205.68L590.86 205.64L591.35 205.61L591.83 205.58L592.31 205.55L592.80 205.52L593.28 205.49L593.76 205.47L594.25 205.45L594.73 205.42L595.21 205.41L595.70 205.39L596.18 205.37L596.66 205.36L597.15 205.35L597.63 205.34L598.11 205.33L598.60 205.33L599.08 205.32L599.57 205.32L600.05 205.32L600.53 205.32L601.02 205.33L601.50 205.33L601.98 205.34L602.47 205.35L602.95 205.36L603.43 205.38L603.92 205.39L604.40 205.41L604.88 205.43L605.37 205.45L605.85 205.47L606.33 205.49L606.82 205.52L607.30 205.55L607.78 205.58L608.27 205.61L608.75 205.64L609.24 205.68L609.72 205.72L610.20 205.76L610.69 205.80L611.17 205.84L611.65 205.89L612.14 205.93L612.62 205.98L613.10 206.03L613.59 206.08L614.07 206.14L614.55 206.19L615.04 206.25L615.52 206.31L616.00 206.37L616.49 206.44L616.97 206.50L617.46 206.57L617.94 206.64L618.42 206.71L618.91 206.78L619.39 206.86L619.87 206.93L620.36 207.01L620.84 207.09L621.32 207.17L621.81 207.26L622.29 207.34L622.77 207.43L623.26 207.52L623.74 207.61L624.22 207.70L624.71 207.80L625.19 207.89L625.68 207.99L626.16 208.09L626.64 208.19L627.13 208.30L627.61 208.40L628.09 208.51L628.58 208.62L629.06 208.73L629.54 208.84L630.03 208.96L630.51 209.07L630.99 209.19L631.48 209.31L631.96 209.43L632.44 209.56L632.93 209.68L633.41 209.81L633.89 209.94L634.38 210.07L634.86 210.20L635.35 210.34L635.83 210.47L636.31 210.61L636.31 221.71L636.82 221.85L637.32 221.99L637.83 222.13L638.34 222.27L638.84 222.41L639.35 222.55L639.86 222.70L640.36 222.84L640.87 222.98L641.37 223.12L641.88 223.27L642.39 223.41L642.89 223.55L643.40 223.69L643.90 223.84L644.41 223.98L644.92 224.12L645.42 224.27L645.93 224.41L646.44 224.55L646.44 270.97" stroke="#56B4E9"/>
<path d="M464.10 246.00L464.20 241.90L464.30 160.00L464.40 140.00L464.70 122.00L465.00 112.00L465.40 105.50L466.00 101.00L466.90 97.10L468.10 92.70L469.30 90.20L470.40 88.60L471.00 88.30L471.40 99.00L471.60 110.60L472.40 109.00L473.70 106.30L475.50 104.00L477.50 102.30L480.00 100.60L482.30 99.30L483.60 99.00L484.50 100.00L486.50 99.00L488.80 97.80L491.50 96.60L494.50 95.60L497.00 95.00L499.40 94.50L502.70 93.60L508.50 92.70L513.80 91.90L514.50 92.70L520.20 92.50L524.90 92.50L524.79 93.31L524.79 100.04L525.28 99.90L525.76 99.75L525.76 120.42L526.25 120.27L526.73 120.12L527.21 119.98L527.69 119.83L528.17 119.69L528.66 119.56L529.14 119.42L529.62 119.29L530.10 119.16L530.58 119.03L531.07 118.91L531.55 118.79L532.03 118.67L532.51 118.55L532.99 118.43L533.48 118.32L533.96 118.21L534.44 118.10L534.92 117.99L535.40 117.89L535.89 117.79L536.37 117.69L536.85 117.59L537.33 117.50L537.81 117.41L538.30 117.32L538.78 117.23L539.26 117.14L539.74 117.06L540.23 116.98L540.71 116.90L541.19 116.82L541.67 116.75L542.15 116.68L542.64 116.61L543.12 116.54L543.60 116.47L544.08 116.41L544.56 116.35L545.05 116.29L545.53 116.23L546.01 116.18L546.49 116.13L546.97 116.08L547.46 116.03L547.94 115.98L548.42 115.94L548.90 115.90L549.38 115.86L549.87 115.82L550.35 115.78L550.83 115.75L551.31 115.72L551.79 115.69L552.28 115.66L552.76 115.64L553.24 115.62L553.72 115.60L554.20 115.58L554.69 115.56L555.17 115.55L555.65 115.53L556.13 115.52L556.61 115.52L557.10 115.51L557.58 115.51L558.06 115.50L558.54 115.50L559.02 115.50L559.51 115.51L559.99 115.52L560.47 115.52L560.95 115.53L561.43 115.55L561.92 115.56L562.40 115.58L562.88 115.59L563.36 115.61L563.84 115.64L564.33 115.66L564.81 115.69L565.29 115.71L565.77 115.75L566.25 115.78L566.74 115.81L567.22 115.85L567.70 115.89L568.18 115.93L568.66 115.97L569.15 116.01L569.63 116.06L570.11 116.11L570.59 116.16L571.07 116.21L571.56 116.26L572.04 116.32L572.52 116.38L573.00 116.44L573.49 116.50L573.97 116.56L574.45 116.63L574.93 116.69L575.41 116.76L575.90 116.83L576.38 116.91L576.86 116.98L577.34 117.06L577.82 117.14L578.31 117.22L578.79 117.30L579.27 117.39L579.75 117.47L580.23 117.56L580.72 117.65L581.20 117.75L581.68 117.84L582.16 117.94L582.64 118.04L583.13 118.14L583.13 208.29L583.61 208.23L584.09 208.17L584.58 208.11L585.06 208.05L585.54 207.99L586.03 207.94L586.51 207.89L586.99 207.84L587.48 207.79L587.96 207.75L588.44 207.70L588.93 207.66L589.41 207.62L589.89 207.58L590.38 207.54L590.86 207.51L591.35 207.48L591.83 207.45L592.31 207.42L592.80 207.39L593.28 207.37L593.76 207.34L594.25 207.32L594.73 207.30L595.21 207.29L595.70 207.27L596.18 207.26L596.66 207.24L597.15 207.24L597.63 207.23L598.11 207.22L598.60 207.22L599.08 207.22L599.57 207.21L600.05 207.22L600.53 207.22L601.02 207.23L601.50 207.23L601.98 207.24L602.47 207.25L602.95 207.27L603.43 207.28L603.92 207.30L604.40 207.32L604.88 207.34L605.37 207.36L605.85 207.38L606.33 207.41L606.82 207.44L607.30 207.47L607.78 207.50L608.27 207.53L608.75 207.57L609.24 207.60L609.72 207.64L610.20 207.68L610.69 207.73L611.17 207.77L611.65 207.82L612.14 207.86L612.62 207.91L613.10 207.97L613.59 208.02L614.07 208.08L614.55 208.13L615.04 208.19L615.52 208.25L616.00 208.32L616.49 208.38L616.97 208.45L617.46 208.52L617.94 208.59L618.42 208.66L618.91 208.73L619.39 208.81L619.87 208.89L620.36 208.97L620.84 209.05L621.32 209.13L621.81 209.22L622.29 209.30L622.77 209.39L623.26 209.48L623.74 209.58L624.22 209.67L624.71 209.77L625.19 209.86L625.68 209.96L626.16 210.06L626.64 210.17L627.13 210.27L627.61 210.38L628.09 210.49L628.58 210.60L629.06 210.71L629.54 210.83L630.03 210.94L630.51 211.06L630.99 211.18L631.48 211.30L631.96 211.42L632.44 211.55L632.93 211.68L633.41 211.81L633.89 211.94L634.38 212.07L634.86 212.20L635.35 212.34L635.83 212.48L636.31 212.62L636.31 223.71L636.82 223.85L637.32 224.00L637.83 224.14L638.34 224.28L638.84 224.43L639.35 224.57L639.86 224.71L640.36 224.86L640.87 225.00L641.37 225.14L641.88 225.29L642.39 225.43L642.89 225.58L643.40 225.72L643.90 225.87L644.41 226.01L644.92 226.16L645.42 226.30L645.93 226.45L646.44 226.59L646.44 270.97" stroke="#D55E00"/>
<path d="M465.70 246.00L465.90 241.90L466.30 200.00L466.80 165.00L467.20 148.00L468.00 136.00L469.10 125.10L469.80 121.50L470.50 119.90L471.00 119.80L471.40 130.00L471.70 139.50L472.40 133.00L473.40 130.30L475.00 127.30L477.20 124.60L479.50 122.30L481.60 120.50L482.80 120.20L483.80 121.00L485.50 119.50L488.00 117.00L490.00 115.50L492.30 114.20L495.00 113.20L497.50 112.90L499.20 112.80L502.70 111.90L508.50 110.70L513.80 109.70L514.50 110.70L520.20 110.30L524.90 110.30L524.79 110.79L524.79 117.51L525.28 117.37L525.76 117.22L525.76 137.88L526.25 137.73L526.73 137.58L527.21 137.43L527.69 137.29L528.17 137.14L528.66 137.00L529.14 136.86L529.62 136.73L530.10 136.60L530.58 136.47L531.07 136.34L531.55 136.21L532.03 136.09L532.51 135.97L532.99 135.86L533.48 135.74L533.96 135.63L534.44 135.52L534.92 135.41L535.40 135.30L535.89 135.20L536.37 135.10L536.85 135.00L537.33 134.91L537.81 134.81L538.30 134.72L538.78 134.63L539.26 134.55L539.74 134.46L540.23 134.38L540.71 134.30L541.19 134.23L541.67 134.15L542.15 134.08L542.64 134.01L543.12 133.94L543.60 133.87L544.08 133.81L544.56 133.75L545.05 133.69L545.53 133.63L546.01 133.58L546.49 133.53L546.97 133.48L547.46 133.43L547.94 133.38L548.42 133.34L548.90 133.30L549.38 133.26L549.87 133.22L550.35 133.19L550.83 133.15L551.31 133.12L551.79 133.10L552.28 133.07L552.76 133.04L553.24 133.02L553.72 133.00L554.20 132.99L554.69 132.97L555.17 132.96L555.65 132.94L556.13 132.93L556.61 132.93L557.10 132.92L557.58 132.92L558.06 132.92L558.54 132.92L559.02 132.92L559.51 132.93L559.99 132.94L560.47 132.94L560.95 132.96L561.43 132.97L561.92 132.98L562.40 133.00L562.88 133.02L563.36 133.04L563.84 133.07L564.33 133.09L564.81 133.12L565.29 133.15L565.77 133.18L566.25 133.21L566.74 133.25L567.22 133.29L567.70 133.33L568.18 133.37L568.66 133.41L569.15 133.46L569.63 133.51L570.11 133.56L570.59 133.61L571.07 133.66L571.56 133.72L572.04 133.77L572.52 133.83L573.00 133.90L573.49 133.96L573.97 134.02L574.45 134.09L574.93 134.16L575.41 134.23L575.90 134.31L576.38 134.38L576.86 134.46L577.34 134.54L577.82 134.62L578.31 134.70L578.79 134.79L579.27 134.87L579.75 134.96L580.23 135.05L580.72 135.14L581.20 135.24L581.68 135.33L582.16 135.43L582.64 135.53L583.13 135.64L583.13 225.79L583.61 225.73L584.09 225.67L584.58 225.61L585.06 225.56L585.54 225.50L586.03 225.45L586.51 225.40L586.99 225.36L587.48 225.31L587.96 225.27L588.44 225.22L588.93 225.18L589.41 225.15L589.89 225.11L590.38 225.07L590.86 225.04L591.35 225.01L591.83 224.98L592.31 224.96L592.80 224.93L593.28 224.91L593.76 224.89L594.25 224.87L594.73 224.85L595.21 224.84L595.70 224.82L596.18 224.81L596.66 224.80L597.15 224.80L597.63 224.79L598.11 224.79L598.60 224.78L599.08 224.78L599.57 224.79L600.05 224.79L600.53 224.80L601.02 224.80L601.50 224.81L601.98 224.82L602.47 224.84L602.95 224.85L603.43 224.87L603.92 224.89L604.40 224.91L604.88 224.93L605.37 224.96L605.85 224.98L606.33 225.01L606.82 225.04L607.30 225.07L607.78 225.11L608.27 225.14L608.75 225.18L609.24 225.22L609.72 225.26L610.20 225.30L610.69 225.35L611.17 225.40L611.65 225.44L612.14 225.49L612.62 225.55L613.10 225.60L613.59 225.66L614.07 225.71L614.55 225.77L615.04 225.84L615.52 225.90L616.00 225.97L616.49 226.03L616.97 226.10L617.46 226.17L617.94 226.24L618.42 226.32L618.91 226.40L619.39 226.47L619.87 226.55L620.36 226.64L620.84 226.72L621.32 226.80L621.81 226.89L622.29 226.98L622.77 227.07L623.26 227.17L623.74 227.26L624.22 227.36L624.71 227.45L625.19 227.55L625.68 227.66L626.16 227.76L626.64 227.87L627.13 227.97L627.61 228.08L628.09 228.19L628.58 228.31L629.06 228.42L629.54 228.54L630.03 228.66L630.51 228.78L630.99 228.90L631.48 229.02L631.96 229.15L632.44 229.28L632.93 229.40L633.41 229.54L633.89 229.67L634.38 229.80L634.86 229.94L635.35 230.08L635.83 230.22L636.31 230.36L636.31 241.45L636.82 241.60L637.32 241.74L637.83 241.89L638.34 242.04L638.84 242.18L639.35 242.33L639.86 242.47L640.36 242.62L640.87 242.76L641.37 242.91L641.88 243.06L642.39 243.20L642.89 243.35L643.40 243.50L643.90 243.64L644.41 243.79L644.92 243.94L645.42 244.09L645.93 244.23L646.44 244.38L646.44 270.97" stroke="#009E73"/>
<path d="M470.98 8.00V241.90" stroke="#555555" stroke-width="1.9" stroke-dasharray="7.4 3.76" stroke-dashoffset="8.26"/>
</g>
<g fill="none" stroke="#000">
<rect x="52.90" y="8.45" width="286.15" height="233.50" stroke-width="1.5"/>
<rect x="396.00" y="8.45" width="285.95" height="233.35" stroke-width="1.5"/>
<path d="M52.50 241.95V237.05M52.50 8.45V13.35" stroke-width="1.25"/>
<path d="M58.50 241.95V239.15M58.50 8.45V11.25" stroke-width="1.00"/>
<path d="M64.50 241.95V239.15M64.50 8.45V11.25" stroke-width="1.00"/>
<path d="M70.50 241.95V239.15M70.50 8.45V11.25" stroke-width="1.00"/>
<path d="M75.50 241.95V239.15M75.50 8.45V11.25" stroke-width="1.00"/>
<path d="M81.50 241.95V239.15M81.50 8.45V11.25" stroke-width="1.00"/>
<path d="M87.50 241.95V239.15M87.50 8.45V11.25" stroke-width="1.00"/>
<path d="M92.50 241.95V239.15M92.50 8.45V11.25" stroke-width="1.00"/>
<path d="M98.50 241.95V239.15M98.50 8.45V11.25" stroke-width="1.00"/>
<path d="M104.50 241.95V239.15M104.50 8.45V11.25" stroke-width="1.00"/>
<path d="M110.50 241.95V237.05M110.50 8.45V13.35" stroke-width="1.25"/>
<path d="M115.50 241.95V239.15M115.50 8.45V11.25" stroke-width="1.00"/>
<path d="M121.50 241.95V239.15M121.50 8.45V11.25" stroke-width="1.00"/>
<path d="M127.50 241.95V239.15M127.50 8.45V11.25" stroke-width="1.00"/>
<path d="M132.50 241.95V239.15M132.50 8.45V11.25" stroke-width="1.00"/>
<path d="M138.50 241.95V239.15M138.50 8.45V11.25" stroke-width="1.00"/>
<path d="M144.50 241.95V239.15M144.50 8.45V11.25" stroke-width="1.00"/>
<path d="M150.50 241.95V239.15M150.50 8.45V11.25" stroke-width="1.00"/>
<path d="M155.50 241.95V239.15M155.50 8.45V11.25" stroke-width="1.00"/>
<path d="M161.50 241.95V239.15M161.50 8.45V11.25" stroke-width="1.00"/>
<path d="M167.50 241.95V237.05M167.50 8.45V13.35" stroke-width="1.25"/>
<path d="M173.50 241.95V239.15M173.50 8.45V11.25" stroke-width="1.00"/>
<path d="M178.50 241.95V239.15M178.50 8.45V11.25" stroke-width="1.00"/>
<path d="M184.50 241.95V239.15M184.50 8.45V11.25" stroke-width="1.00"/>
<path d="M190.50 241.95V239.15M190.50 8.45V11.25" stroke-width="1.00"/>
<path d="M195.50 241.95V239.15M195.50 8.45V11.25" stroke-width="1.00"/>
<path d="M201.50 241.95V239.15M201.50 8.45V11.25" stroke-width="1.00"/>
<path d="M207.50 241.95V239.15M207.50 8.45V11.25" stroke-width="1.00"/>
<path d="M213.50 241.95V239.15M213.50 8.45V11.25" stroke-width="1.00"/>
<path d="M218.50 241.95V239.15M218.50 8.45V11.25" stroke-width="1.00"/>
<path d="M224.50 241.95V237.05M224.50 8.45V13.35" stroke-width="1.25"/>
<path d="M230.50 241.95V239.15M230.50 8.45V11.25" stroke-width="1.00"/>
<path d="M236.50 241.95V239.15M236.50 8.45V11.25" stroke-width="1.00"/>
<path d="M241.50 241.95V239.15M241.50 8.45V11.25" stroke-width="1.00"/>
<path d="M247.50 241.95V239.15M247.50 8.45V11.25" stroke-width="1.00"/>
<path d="M253.50 241.95V239.15M253.50 8.45V11.25" stroke-width="1.00"/>
<path d="M258.50 241.95V239.15M258.50 8.45V11.25" stroke-width="1.00"/>
<path d="M264.50 241.95V239.15M264.50 8.45V11.25" stroke-width="1.00"/>
<path d="M270.50 241.95V239.15M270.50 8.45V11.25" stroke-width="1.00"/>
<path d="M276.50 241.95V239.15M276.50 8.45V11.25" stroke-width="1.00"/>
<path d="M281.50 241.95V237.05M281.50 8.45V13.35" stroke-width="1.25"/>
<path d="M287.50 241.95V239.15M287.50 8.45V11.25" stroke-width="1.00"/>
<path d="M293.50 241.95V239.15M293.50 8.45V11.25" stroke-width="1.00"/>
<path d="M298.50 241.95V239.15M298.50 8.45V11.25" stroke-width="1.00"/>
<path d="M304.50 241.95V239.15M304.50 8.45V11.25" stroke-width="1.00"/>
<path d="M310.50 241.95V239.15M310.50 8.45V11.25" stroke-width="1.00"/>
<path d="M316.50 241.95V239.15M316.50 8.45V11.25" stroke-width="1.00"/>
<path d="M321.50 241.95V239.15M321.50 8.45V11.25" stroke-width="1.00"/>
<path d="M327.50 241.95V239.15M327.50 8.45V11.25" stroke-width="1.00"/>
<path d="M333.50 241.95V239.15M333.50 8.45V11.25" stroke-width="1.00"/>
<path d="M339.50 241.95V237.05M339.50 8.45V13.35" stroke-width="1.25"/>
<path d="M52.90 241.50H57.80M339.05 241.50H334.15" stroke-width="1.25"/>
<path d="M52.90 233.50H55.70M339.05 233.50H336.25" stroke-width="1.0"/>
<path d="M52.90 228.50H55.70M339.05 228.50H336.25" stroke-width="1.0"/>
<path d="M52.90 224.50H55.70M339.05 224.50H336.25" stroke-width="1.0"/>
<path d="M52.90 221.50H55.70M339.05 221.50H336.25" stroke-width="1.0"/>
<path d="M52.90 219.50H55.70M339.05 219.50H336.25" stroke-width="1.0"/>
<path d="M52.90 217.50H55.70M339.05 217.50H336.25" stroke-width="1.0"/>
<path d="M52.90 215.50H55.70M339.05 215.50H336.25" stroke-width="1.0"/>
<path d="M52.90 214.50H55.70M339.05 214.50H336.25" stroke-width="1.0"/>
<path d="M52.90 212.50H57.80M339.05 212.50H334.15" stroke-width="1.25"/>
<path d="M52.90 203.50H55.70M339.05 203.50H336.25" stroke-width="1.0"/>
<path d="M52.90 198.50H55.70M339.05 198.50H336.25" stroke-width="1.0"/>
<path d="M52.90 195.50H55.70M339.05 195.50H336.25" stroke-width="1.0"/>
<path d="M52.90 192.50H55.70M339.05 192.50H336.25" stroke-width="1.0"/>
<path d="M52.90 190.50H55.70M339.05 190.50H336.25" stroke-width="1.0"/>
<path d="M52.90 188.50H55.70M339.05 188.50H336.25" stroke-width="1.0"/>
<path d="M52.90 186.50H55.70M339.05 186.50H336.25" stroke-width="1.0"/>
<path d="M52.90 184.50H55.70M339.05 184.50H336.25" stroke-width="1.0"/>
<path d="M52.90 183.50H57.80M339.05 183.50H334.15" stroke-width="1.25"/>
<path d="M52.90 174.50H55.70M339.05 174.50H336.25" stroke-width="1.0"/>
<path d="M52.90 169.50H55.70M339.05 169.50H336.25" stroke-width="1.0"/>
<path d="M52.90 165.50H55.70M339.05 165.50H336.25" stroke-width="1.0"/>
<path d="M52.90 163.50H55.70M339.05 163.50H336.25" stroke-width="1.0"/>
<path d="M52.90 160.50H55.70M339.05 160.50H336.25" stroke-width="1.0"/>
<path d="M52.90 158.50H55.70M339.05 158.50H336.25" stroke-width="1.0"/>
<path d="M52.90 157.50H55.70M339.05 157.50H336.25" stroke-width="1.0"/>
<path d="M52.90 155.50H55.70M339.05 155.50H336.25" stroke-width="1.0"/>
<path d="M52.90 154.50H57.80M339.05 154.50H334.15" stroke-width="1.25"/>
<path d="M52.90 145.50H55.70M339.05 145.50H336.25" stroke-width="1.0"/>
<path d="M52.90 140.50H55.70M339.05 140.50H336.25" stroke-width="1.0"/>
<path d="M52.90 136.50H55.70M339.05 136.50H336.25" stroke-width="1.0"/>
<path d="M52.90 133.50H55.70M339.05 133.50H336.25" stroke-width="1.0"/>
<path d="M52.90 131.50H55.70M339.05 131.50H336.25" stroke-width="1.0"/>
<path d="M52.90 129.50H55.70M339.05 129.50H336.25" stroke-width="1.0"/>
<path d="M52.90 128.50H55.70M339.05 128.50H336.25" stroke-width="1.0"/>
<path d="M52.90 126.50H55.70M339.05 126.50H336.25" stroke-width="1.0"/>
<path d="M52.90 125.50H57.80M339.05 125.50H334.15" stroke-width="1.25"/>
<path d="M52.90 116.50H55.70M339.05 116.50H336.25" stroke-width="1.0"/>
<path d="M52.90 111.50H55.70M339.05 111.50H336.25" stroke-width="1.0"/>
<path d="M52.90 107.50H55.70M339.05 107.50H336.25" stroke-width="1.0"/>
<path d="M52.90 104.50H55.70M339.05 104.50H336.25" stroke-width="1.0"/>
<path d="M52.90 102.50H55.70M339.05 102.50H336.25" stroke-width="1.0"/>
<path d="M52.90 100.50H55.70M339.05 100.50H336.25" stroke-width="1.0"/>
<path d="M52.90 98.50H55.70M339.05 98.50H336.25" stroke-width="1.0"/>
<path d="M52.90 97.50H55.70M339.05 97.50H336.25" stroke-width="1.0"/>
<path d="M52.90 95.50H57.80M339.05 95.50H334.15" stroke-width="1.25"/>
<path d="M52.90 87.50H55.70M339.05 87.50H336.25" stroke-width="1.0"/>
<path d="M52.90 82.50H55.70M339.05 82.50H336.25" stroke-width="1.0"/>
<path d="M52.90 78.50H55.70M339.05 78.50H336.25" stroke-width="1.0"/>
<path d="M52.90 75.50H55.70M339.05 75.50H336.25" stroke-width="1.0"/>
<path d="M52.90 73.50H55.70M339.05 73.50H336.25" stroke-width="1.0"/>
<path d="M52.90 71.50H55.70M339.05 71.50H336.25" stroke-width="1.0"/>
<path d="M52.90 69.50H55.70M339.05 69.50H336.25" stroke-width="1.0"/>
<path d="M52.90 68.50H55.70M339.05 68.50H336.25" stroke-width="1.0"/>
<path d="M52.90 66.50H57.80M339.05 66.50H334.15" stroke-width="1.25"/>
<path d="M52.90 57.50H55.70M339.05 57.50H336.25" stroke-width="1.0"/>
<path d="M52.90 52.50H55.70M339.05 52.50H336.25" stroke-width="1.0"/>
<path d="M52.90 49.50H55.70M339.05 49.50H336.25" stroke-width="1.0"/>
<path d="M52.90 46.50H55.70M339.05 46.50H336.25" stroke-width="1.0"/>
<path d="M52.90 44.50H55.70M339.05 44.50H336.25" stroke-width="1.0"/>
<path d="M52.90 42.50H55.70M339.05 42.50H336.25" stroke-width="1.0"/>
<path d="M52.90 40.50H55.70M339.05 40.50H336.25" stroke-width="1.0"/>
<path d="M52.90 38.50H55.70M339.05 38.50H336.25" stroke-width="1.0"/>
<path d="M52.90 37.50H57.80M339.05 37.50H334.15" stroke-width="1.25"/>
<path d="M52.90 28.50H55.70M339.05 28.50H336.25" stroke-width="1.0"/>
<path d="M52.90 23.50H55.70M339.05 23.50H336.25" stroke-width="1.0"/>
<path d="M52.90 20.50H55.70M339.05 20.50H336.25" stroke-width="1.0"/>
<path d="M52.90 17.50H55.70M339.05 17.50H336.25" stroke-width="1.0"/>
<path d="M52.90 14.50H55.70M339.05 14.50H336.25" stroke-width="1.0"/>
<path d="M52.90 12.50H55.70M339.05 12.50H336.25" stroke-width="1.0"/>
<path d="M52.90 11.50H55.70M339.05 11.50H336.25" stroke-width="1.0"/>
<path d="M52.90 9.50H55.70M339.05 9.50H336.25" stroke-width="1.0"/>
<path d="M52.90 8.50H57.80M339.05 8.50H334.15" stroke-width="1.25"/>
<path d="M396.50 241.80V236.90M396.50 8.45V13.35" stroke-width="1.25"/>
<path d="M401.50 241.80V239.00M401.50 8.45V11.25" stroke-width="1.00"/>
<path d="M407.50 241.80V239.00M407.50 8.45V11.25" stroke-width="1.00"/>
<path d="M413.50 241.80V239.00M413.50 8.45V11.25" stroke-width="1.00"/>
<path d="M418.50 241.80V239.00M418.50 8.45V11.25" stroke-width="1.00"/>
<path d="M424.50 241.80V239.00M424.50 8.45V11.25" stroke-width="1.00"/>
<path d="M430.50 241.80V239.00M430.50 8.45V11.25" stroke-width="1.00"/>
<path d="M436.50 241.80V239.00M436.50 8.45V11.25" stroke-width="1.00"/>
<path d="M441.50 241.80V239.00M441.50 8.45V11.25" stroke-width="1.00"/>
<path d="M447.50 241.80V239.00M447.50 8.45V11.25" stroke-width="1.00"/>
<path d="M453.50 241.80V236.90M453.50 8.45V13.35" stroke-width="1.25"/>
<path d="M458.50 241.80V239.00M458.50 8.45V11.25" stroke-width="1.00"/>
<path d="M464.50 241.80V239.00M464.50 8.45V11.25" stroke-width="1.00"/>
<path d="M470.50 241.80V239.00M470.50 8.45V11.25" stroke-width="1.00"/>
<path d="M476.50 241.80V239.00M476.50 8.45V11.25" stroke-width="1.00"/>
<path d="M481.50 241.80V239.00M481.50 8.45V11.25" stroke-width="1.00"/>
<path d="M487.50 241.80V239.00M487.50 8.45V11.25" stroke-width="1.00"/>
<path d="M493.50 241.80V239.00M493.50 8.45V11.25" stroke-width="1.00"/>
<path d="M498.50 241.80V239.00M498.50 8.45V11.25" stroke-width="1.00"/>
<path d="M504.50 241.80V239.00M504.50 8.45V11.25" stroke-width="1.00"/>
<path d="M510.50 241.80V236.90M510.50 8.45V13.35" stroke-width="1.25"/>
<path d="M516.50 241.80V239.00M516.50 8.45V11.25" stroke-width="1.00"/>
<path d="M521.50 241.80V239.00M521.50 8.45V11.25" stroke-width="1.00"/>
<path d="M527.50 241.80V239.00M527.50 8.45V11.25" stroke-width="1.00"/>
<path d="M533.50 241.80V239.00M533.50 8.45V11.25" stroke-width="1.00"/>
<path d="M538.50 241.80V239.00M538.50 8.45V11.25" stroke-width="1.00"/>
<path d="M544.50 241.80V239.00M544.50 8.45V11.25" stroke-width="1.00"/>
<path d="M550.50 241.80V239.00M550.50 8.45V11.25" stroke-width="1.00"/>
<path d="M556.50 241.80V239.00M556.50 8.45V11.25" stroke-width="1.00"/>
<path d="M561.50 241.80V239.00M561.50 8.45V11.25" stroke-width="1.00"/>
<path d="M567.50 241.80V236.90M567.50 8.45V13.35" stroke-width="1.25"/>
<path d="M573.50 241.80V239.00M573.50 8.45V11.25" stroke-width="1.00"/>
<path d="M579.50 241.80V239.00M579.50 8.45V11.25" stroke-width="1.00"/>
<path d="M584.50 241.80V239.00M584.50 8.45V11.25" stroke-width="1.00"/>
<path d="M590.50 241.80V239.00M590.50 8.45V11.25" stroke-width="1.00"/>
<path d="M596.50 241.80V239.00M596.50 8.45V11.25" stroke-width="1.00"/>
<path d="M601.50 241.80V239.00M601.50 8.45V11.25" stroke-width="1.00"/>
<path d="M607.50 241.80V239.00M607.50 8.45V11.25" stroke-width="1.00"/>
<path d="M613.50 241.80V239.00M613.50 8.45V11.25" stroke-width="1.00"/>
<path d="M619.50 241.80V239.00M619.50 8.45V11.25" stroke-width="1.00"/>
<path d="M624.50 241.80V236.90M624.50 8.45V13.35" stroke-width="1.25"/>
<path d="M630.50 241.80V239.00M630.50 8.45V11.25" stroke-width="1.00"/>
<path d="M636.50 241.80V239.00M636.50 8.45V11.25" stroke-width="1.00"/>
<path d="M641.50 241.80V239.00M641.50 8.45V11.25" stroke-width="1.00"/>
<path d="M647.50 241.80V239.00M647.50 8.45V11.25" stroke-width="1.00"/>
<path d="M653.50 241.80V239.00M653.50 8.45V11.25" stroke-width="1.00"/>
<path d="M659.50 241.80V239.00M659.50 8.45V11.25" stroke-width="1.00"/>
<path d="M664.50 241.80V239.00M664.50 8.45V11.25" stroke-width="1.00"/>
<path d="M670.50 241.80V239.00M670.50 8.45V11.25" stroke-width="1.00"/>
<path d="M676.50 241.80V239.00M676.50 8.45V11.25" stroke-width="1.00"/>
<path d="M681.50 241.80V236.90M681.50 8.45V13.35" stroke-width="1.25"/>
<path d="M396.00 241.50H400.90M681.95 241.50H677.05" stroke-width="1.25"/>
<path d="M396.00 233.50H398.80M681.95 233.50H679.15" stroke-width="1.0"/>
<path d="M396.00 227.50H398.80M681.95 227.50H679.15" stroke-width="1.0"/>
<path d="M396.00 224.50H398.80M681.95 224.50H679.15" stroke-width="1.0"/>
<path d="M396.00 221.50H398.80M681.95 221.50H679.15" stroke-width="1.0"/>
<path d="M396.00 219.50H398.80M681.95 219.50H679.15" stroke-width="1.0"/>
<path d="M396.00 217.50H398.80M681.95 217.50H679.15" stroke-width="1.0"/>
<path d="M396.00 215.50H398.80M681.95 215.50H679.15" stroke-width="1.0"/>
<path d="M396.00 213.50H398.80M681.95 213.50H679.15" stroke-width="1.0"/>
<path d="M396.00 212.50H400.90M681.95 212.50H677.05" stroke-width="1.25"/>
<path d="M396.00 203.50H398.80M681.95 203.50H679.15" stroke-width="1.0"/>
<path d="M396.00 198.50H398.80M681.95 198.50H679.15" stroke-width="1.0"/>
<path d="M396.00 195.50H398.80M681.95 195.50H679.15" stroke-width="1.0"/>
<path d="M396.00 192.50H398.80M681.95 192.50H679.15" stroke-width="1.0"/>
<path d="M396.00 189.50H398.80M681.95 189.50H679.15" stroke-width="1.0"/>
<path d="M396.00 187.50H398.80M681.95 187.50H679.15" stroke-width="1.0"/>
<path d="M396.00 186.50H398.80M681.95 186.50H679.15" stroke-width="1.0"/>
<path d="M396.00 184.50H398.80M681.95 184.50H679.15" stroke-width="1.0"/>
<path d="M396.00 183.50H400.90M681.95 183.50H677.05" stroke-width="1.25"/>
<path d="M396.00 174.50H398.80M681.95 174.50H679.15" stroke-width="1.0"/>
<path d="M396.00 169.50H398.80M681.95 169.50H679.15" stroke-width="1.0"/>
<path d="M396.00 165.50H398.80M681.95 165.50H679.15" stroke-width="1.0"/>
<path d="M396.00 163.50H398.80M681.95 163.50H679.15" stroke-width="1.0"/>
<path d="M396.00 160.50H398.80M681.95 160.50H679.15" stroke-width="1.0"/>
<path d="M396.00 158.50H398.80M681.95 158.50H679.15" stroke-width="1.0"/>
<path d="M396.00 157.50H398.80M681.95 157.50H679.15" stroke-width="1.0"/>
<path d="M396.00 155.50H398.80M681.95 155.50H679.15" stroke-width="1.0"/>
<path d="M396.00 154.50H400.90M681.95 154.50H677.05" stroke-width="1.25"/>
<path d="M396.00 145.50H398.80M681.95 145.50H679.15" stroke-width="1.0"/>
<path d="M396.00 140.50H398.80M681.95 140.50H679.15" stroke-width="1.0"/>
<path d="M396.00 136.50H398.80M681.95 136.50H679.15" stroke-width="1.0"/>
<path d="M396.00 133.50H398.80M681.95 133.50H679.15" stroke-width="1.0"/>
<path d="M396.00 131.50H398.80M681.95 131.50H679.15" stroke-width="1.0"/>
<path d="M396.00 129.50H398.80M681.95 129.50H679.15" stroke-width="1.0"/>
<path d="M396.00 127.50H398.80M681.95 127.50H679.15" stroke-width="1.0"/>
<path d="M396.00 126.50H398.80M681.95 126.50H679.15" stroke-width="1.0"/>
<path d="M396.00 125.50H400.90M681.95 125.50H677.05" stroke-width="1.25"/>
<path d="M396.00 116.50H398.80M681.95 116.50H679.15" stroke-width="1.0"/>
<path d="M396.00 111.50H398.80M681.95 111.50H679.15" stroke-width="1.0"/>
<path d="M396.00 107.50H398.80M681.95 107.50H679.15" stroke-width="1.0"/>
<path d="M396.00 104.50H398.80M681.95 104.50H679.15" stroke-width="1.0"/>
<path d="M396.00 102.50H398.80M681.95 102.50H679.15" stroke-width="1.0"/>
<path d="M396.00 100.50H398.80M681.95 100.50H679.15" stroke-width="1.0"/>
<path d="M396.00 98.50H398.80M681.95 98.50H679.15" stroke-width="1.0"/>
<path d="M396.00 97.50H398.80M681.95 97.50H679.15" stroke-width="1.0"/>
<path d="M396.00 95.50H400.90M681.95 95.50H677.05" stroke-width="1.25"/>
<path d="M396.00 87.50H398.80M681.95 87.50H679.15" stroke-width="1.0"/>
<path d="M396.00 82.50H398.80M681.95 82.50H679.15" stroke-width="1.0"/>
<path d="M396.00 78.50H398.80M681.95 78.50H679.15" stroke-width="1.0"/>
<path d="M396.00 75.50H398.80M681.95 75.50H679.15" stroke-width="1.0"/>
<path d="M396.00 73.50H398.80M681.95 73.50H679.15" stroke-width="1.0"/>
<path d="M396.00 71.50H398.80M681.95 71.50H679.15" stroke-width="1.0"/>
<path d="M396.00 69.50H398.80M681.95 69.50H679.15" stroke-width="1.0"/>
<path d="M396.00 68.50H398.80M681.95 68.50H679.15" stroke-width="1.0"/>
<path d="M396.00 66.50H400.90M681.95 66.50H677.05" stroke-width="1.25"/>
<path d="M396.00 57.50H398.80M681.95 57.50H679.15" stroke-width="1.0"/>
<path d="M396.00 52.50H398.80M681.95 52.50H679.15" stroke-width="1.0"/>
<path d="M396.00 49.50H398.80M681.95 49.50H679.15" stroke-width="1.0"/>
<path d="M396.00 46.50H398.80M681.95 46.50H679.15" stroke-width="1.0"/>
<path d="M396.00 44.50H398.80M681.95 44.50H679.15" stroke-width="1.0"/>
<path d="M396.00 42.50H398.80M681.95 42.50H679.15" stroke-width="1.0"/>
<path d="M396.00 40.50H398.80M681.95 40.50H679.15" stroke-width="1.0"/>
<path d="M396.00 38.50H398.80M681.95 38.50H679.15" stroke-width="1.0"/>
<path d="M396.00 37.50H400.90M681.95 37.50H677.05" stroke-width="1.25"/>
<path d="M396.00 28.50H398.80M681.95 28.50H679.15" stroke-width="1.0"/>
<path d="M396.00 23.50H398.80M681.95 23.50H679.15" stroke-width="1.0"/>
<path d="M396.00 20.50H398.80M681.95 20.50H679.15" stroke-width="1.0"/>
<path d="M396.00 17.50H398.80M681.95 17.50H679.15" stroke-width="1.0"/>
<path d="M396.00 14.50H398.80M681.95 14.50H679.15" stroke-width="1.0"/>
<path d="M396.00 12.50H398.80M681.95 12.50H679.15" stroke-width="1.0"/>
<path d="M396.00 11.50H398.80M681.95 11.50H679.15" stroke-width="1.0"/>
<path d="M396.00 9.50H398.80M681.95 9.50H679.15" stroke-width="1.0"/>
<path d="M396.00 8.50H400.90M681.95 8.50H677.05" stroke-width="1.25"/>
</g>
<g font-family="Liberation Sans, sans-serif" fill="#000">
<text transform="translate(49.57,255.60) scale(1,1.120)" font-size="11.80">0</text>
<path transform="translate(106.809,255.600) scale(0.005762,-0.006453)" d="M567 0L567 1237L225 1006L225 1176L585 1409L748 1409L748 0Z"/>
<text transform="translate(164.05,255.60) scale(1,1.120)" font-size="11.80">2</text>
<text transform="translate(221.29,255.60) scale(1,1.120)" font-size="11.80">3</text>
<text transform="translate(278.53,255.60) scale(1,1.120)" font-size="11.80">4</text>
<text transform="translate(335.77,255.60) scale(1,1.120)" font-size="11.80">5</text>
<text transform="translate(392.72,255.60) scale(1,1.120)" font-size="11.80">0</text>
<path transform="translate(449.909,255.600) scale(0.005762,-0.006453)" d="M567 0L567 1237L225 1006L225 1176L585 1409L748 1409L748 0Z"/>
<text transform="translate(507.10,255.60) scale(1,1.120)" font-size="11.80">2</text>
<text transform="translate(564.29,255.60) scale(1,1.120)" font-size="11.80">3</text>
<text transform="translate(621.48,255.60) scale(1,1.120)" font-size="11.80">4</text>
<text transform="translate(678.67,255.60) scale(1,1.120)" font-size="11.80">5</text>
<path transform="translate(20.096,248.150) scale(0.005762,-0.006453)" d="M567 0L567 1237L225 1006L225 1176L585 1409L748 1409L748 0Z"/><text transform="translate(26.66,248.15) scale(1,1.120)" font-size="11.80">0</text>
<text x="33.22" y="240.35" font-size="8.30">−49</text>
<path transform="translate(20.096,218.956) scale(0.005762,-0.006453)" d="M567 0L567 1237L225 1006L225 1176L585 1409L748 1409L748 0Z"/><text transform="translate(26.66,218.96) scale(1,1.120)" font-size="11.80">0</text>
<text x="33.22" y="211.16" font-size="8.30">−48</text>
<path transform="translate(20.096,189.762) scale(0.005762,-0.006453)" d="M567 0L567 1237L225 1006L225 1176L585 1409L748 1409L748 0Z"/><text transform="translate(26.66,189.76) scale(1,1.120)" font-size="11.80">0</text>
<text x="33.22" y="181.96" font-size="8.30">−47</text>
<path transform="translate(20.096,160.569) scale(0.005762,-0.006453)" d="M567 0L567 1237L225 1006L225 1176L585 1409L748 1409L748 0Z"/><text transform="translate(26.66,160.57) scale(1,1.120)" font-size="11.80">0</text>
<text x="33.22" y="152.77" font-size="8.30">−46</text>
<path transform="translate(20.096,131.375) scale(0.005762,-0.006453)" d="M567 0L567 1237L225 1006L225 1176L585 1409L748 1409L748 0Z"/><text transform="translate(26.66,131.38) scale(1,1.120)" font-size="11.80">0</text>
<text x="33.22" y="123.58" font-size="8.30">−45</text>
<path transform="translate(20.096,102.181) scale(0.005762,-0.006453)" d="M567 0L567 1237L225 1006L225 1176L585 1409L748 1409L748 0Z"/><text transform="translate(26.66,102.18) scale(1,1.120)" font-size="11.80">0</text>
<text x="33.22" y="94.38" font-size="8.30">−44</text>
<path transform="translate(20.096,72.987) scale(0.005762,-0.006453)" d="M567 0L567 1237L225 1006L225 1176L585 1409L748 1409L748 0Z"/><text transform="translate(26.66,72.99) scale(1,1.120)" font-size="11.80">0</text>
<text x="33.22" y="65.19" font-size="8.30">−43</text>
<path transform="translate(20.096,43.794) scale(0.005762,-0.006453)" d="M567 0L567 1237L225 1006L225 1176L585 1409L748 1409L748 0Z"/><text transform="translate(26.66,43.79) scale(1,1.120)" font-size="11.80">0</text>
<text x="33.22" y="35.99" font-size="8.30">−42</text>
<path transform="translate(20.096,14.600) scale(0.005762,-0.006453)" d="M567 0L567 1237L225 1006L225 1176L585 1409L748 1409L748 0Z"/><text transform="translate(26.66,14.60) scale(1,1.120)" font-size="11.80">0</text>
<text x="33.22" y="6.80" font-size="8.30">−4</text><path transform="translate(42.684,6.800) scale(0.004053,-0.004053)" d="M567 0L567 1237L225 1006L225 1176L585 1409L748 1409L748 0Z"/>
<path transform="translate(367.712,248.000) scale(0.005762,-0.006453)" d="M567 0L567 1237L225 1006L225 1176L585 1409L748 1409L748 0Z"/><text transform="translate(374.27,248.00) scale(1,1.120)" font-size="11.80">0</text>
<text x="380.84" y="240.20" font-size="8.30">−5</text>
<path transform="translate(367.712,218.825) scale(0.005762,-0.006453)" d="M567 0L567 1237L225 1006L225 1176L585 1409L748 1409L748 0Z"/><text transform="translate(374.27,218.82) scale(1,1.120)" font-size="11.80">0</text>
<text x="380.84" y="211.03" font-size="8.30">−4</text>
<path transform="translate(367.712,189.650) scale(0.005762,-0.006453)" d="M567 0L567 1237L225 1006L225 1176L585 1409L748 1409L748 0Z"/><text transform="translate(374.27,189.65) scale(1,1.120)" font-size="11.80">0</text>
<text x="380.84" y="181.85" font-size="8.30">−3</text>
<path transform="translate(367.712,160.475) scale(0.005762,-0.006453)" d="M567 0L567 1237L225 1006L225 1176L585 1409L748 1409L748 0Z"/><text transform="translate(374.27,160.47) scale(1,1.120)" font-size="11.80">0</text>
<text x="380.84" y="152.68" font-size="8.30">−2</text>
<path transform="translate(367.712,131.300) scale(0.005762,-0.006453)" d="M567 0L567 1237L225 1006L225 1176L585 1409L748 1409L748 0Z"/><text transform="translate(374.27,131.30) scale(1,1.120)" font-size="11.80">0</text>
<text x="380.84" y="123.50" font-size="8.30">−</text><path transform="translate(385.684,123.500) scale(0.004053,-0.004053)" d="M567 0L567 1237L225 1006L225 1176L585 1409L748 1409L748 0Z"/>
<path transform="translate(372.559,102.125) scale(0.005762,-0.006453)" d="M567 0L567 1237L225 1006L225 1176L585 1409L748 1409L748 0Z"/><text transform="translate(379.12,102.13) scale(1,1.120)" font-size="11.80">0</text>
<text x="385.68" y="94.33" font-size="8.30">0</text>
<path transform="translate(372.559,72.950) scale(0.005762,-0.006453)" d="M567 0L567 1237L225 1006L225 1176L585 1409L748 1409L748 0Z"/><text transform="translate(379.12,72.95) scale(1,1.120)" font-size="11.80">0</text>
<path transform="translate(385.684,65.150) scale(0.004053,-0.004053)" d="M567 0L567 1237L225 1006L225 1176L585 1409L748 1409L748 0Z"/>
<path transform="translate(372.559,43.775) scale(0.005762,-0.006453)" d="M567 0L567 1237L225 1006L225 1176L585 1409L748 1409L748 0Z"/><text transform="translate(379.12,43.78) scale(1,1.120)" font-size="11.80">0</text>
<text x="385.68" y="35.98" font-size="8.30">2</text>
<path transform="translate(372.559,14.600) scale(0.005762,-0.006453)" d="M567 0L567 1237L225 1006L225 1176L585 1409L748 1409L748 0Z"/><text transform="translate(379.12,14.60) scale(1,1.120)" font-size="11.80">0</text>
<text x="385.68" y="6.80" font-size="8.30">3</text>
<path d="M60.40 20.00H81.60" stroke="#000000" stroke-width="2.0"/>
<path transform="translate(88.300,19.700) scale(0.003564,-0.003564)" d="M567 0L567 1237L225 1006L225 1176L585 1409L748 1409L748 0Z"/>
<text transform="translate(92.66,23.10) scale(1,1.07)" font-size="9.9">H</text>
<path d="M60.40 32.90H81.60" stroke="#56B4E9" stroke-width="2.0"/>
<text x="88.30" y="31.30" font-size="7.30">63</text>
<text transform="translate(96.72,34.70) scale(1,1.07)" font-size="9.9">Cu</text>
<path d="M60.40 45.60H81.60" stroke="#D55E00" stroke-width="2.0"/>
<text x="88.30" y="44.00" font-size="7.30">35</text>
<text transform="translate(96.72,47.40) scale(1,1.07)" font-size="9.9">Cl</text>
<path d="M60.40 58.20H81.60" stroke="#009E73" stroke-width="2.0"/>
<path transform="translate(88.300,56.300) scale(0.003564,-0.003564)" d="M567 0L567 1237L225 1006L225 1176L585 1409L748 1409L748 0Z"/><text x="92.36" y="56.30" font-size="7.30">06</text>
<text transform="translate(100.78,59.70) scale(1,1.07)" font-size="9.9">Cd</text>
<path d="M403.60 20.00H424.80" stroke="#000000" stroke-width="2.0"/>
<path transform="translate(431.500,19.700) scale(0.003564,-0.003564)" d="M567 0L567 1237L225 1006L225 1176L585 1409L748 1409L748 0Z"/>
<text transform="translate(435.86,23.10) scale(1,1.07)" font-size="9.9">H</text>
<path d="M403.60 32.90H424.80" stroke="#56B4E9" stroke-width="2.0"/>
<text x="431.50" y="31.30" font-size="7.30">63</text>
<text transform="translate(439.92,34.70) scale(1,1.07)" font-size="9.9">Cu</text>
<path d="M403.60 45.60H424.80" stroke="#D55E00" stroke-width="2.0"/>
<text x="431.50" y="44.00" font-size="7.30">35</text>
<text transform="translate(439.92,47.40) scale(1,1.07)" font-size="9.9">Cl</text>
<path d="M403.60 58.20H424.80" stroke="#009E73" stroke-width="2.0"/>
<path transform="translate(431.500,56.300) scale(0.003564,-0.003564)" d="M567 0L567 1237L225 1006L225 1176L585 1409L748 1409L748 0Z"/><text x="435.56" y="56.30" font-size="7.30">06</text>
<text transform="translate(443.98,59.70) scale(1,1.07)" font-size="9.9">Cd</text>
<text x="130.59" y="21.3" font-size="8.6" fill="#808080">40</text><text x="140.79" y="25.7" font-size="12.1" fill="#808080">K endpoint</text>
<text x="473.68" y="21.3" font-size="8.6" fill="#808080">40</text><text x="483.88" y="25.7" font-size="12.1" fill="#808080">K endpoint</text>
<text transform="translate(319.8,23.9) scale(1,1.08)" font-size="11.8">a)</text>
<text transform="translate(663.5,23.9) scale(1,1.08)" font-size="11.8">b)</text>
<g transform="translate(-0.05,0)">
<path d="M154.35 265.2L155.45 271.7" stroke="#000" stroke-width="1.35" fill="none"/>
<path d="M155.3 271.7Q158.2 269.4 159.0 265.4" stroke="#000" stroke-width="1.0" fill="none"/>
<path d="M156.2 263.6H160.0" stroke="#000" stroke-width="0.85"/>
<text transform="translate(159.8,274.3) skewX(-6)" font-size="8.3" font-style="italic">e</text>
<text x="169.0" y="271.8" font-size="11.8">energy [MeV]</text>
</g>
<g transform="translate(342.98,0)">
<path d="M154.35 265.2L155.45 271.7" stroke="#000" stroke-width="1.35" fill="none"/>
<path d="M155.3 271.7Q158.2 269.4 159.0 265.4" stroke="#000" stroke-width="1.0" fill="none"/>
<path d="M156.2 263.6H160.0" stroke="#000" stroke-width="0.85"/>
<text transform="translate(159.8,274.3) skewX(-6)" font-size="8.3" font-style="italic">e</text>
<text x="169.0" y="271.8" font-size="11.8">energy [MeV]</text>
</g>
<text transform="translate(11.2,125.8) rotate(-90)" text-anchor="middle" font-size="11.9">Weighted IBD cross section [cm<tspan font-size="8.4" dy="-4.6">2</tspan><tspan dy="4.6">]</tspan></text>
<text transform="translate(358.3,125.3) rotate(-90)" text-anchor="middle" font-size="11.9">Geoneutrino signal [TNU · MeV<tspan font-size="8.4" dy="-4.6">−1</tspan><tspan dy="4.6">]</tspan></text>
</g></svg>
</body></html>
